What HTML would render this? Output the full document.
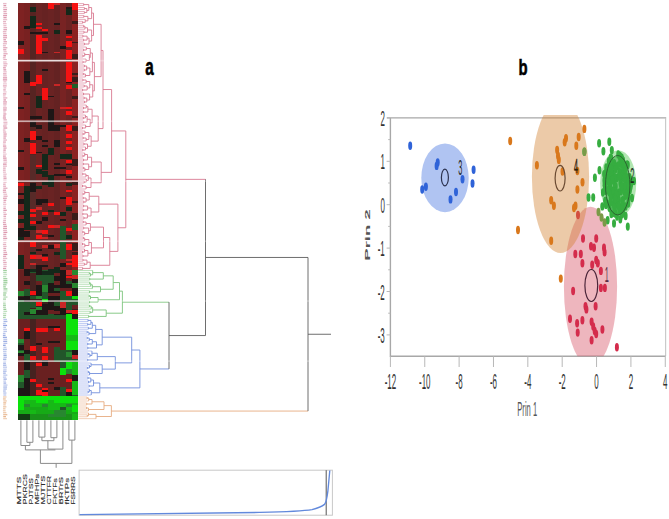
<!DOCTYPE html>
<html><head><meta charset="utf-8"><style>
html,body{margin:0;padding:0;background:#fff;width:669px;height:519px;overflow:hidden}
svg{display:block}
text{font-family:"Liberation Sans",sans-serif}
</style></head><body>
<svg width="669" height="519" viewBox="0 0 669 519">
<rect width="669" height="519" fill="#fff"/>
<g shape-rendering="crispEdges"><rect x="17.90" y="2.60" width="6.00" height="267.40" fill="rgb(126,34,34)"/><rect x="23.90" y="2.60" width="6.00" height="267.40" fill="rgb(120,33,33)"/><rect x="29.90" y="2.60" width="6.00" height="267.40" fill="rgb(86,36,34)"/><rect x="35.90" y="2.60" width="6.00" height="267.40" fill="rgb(106,35,35)"/><rect x="41.90" y="2.60" width="6.00" height="267.40" fill="rgb(102,34,34)"/><rect x="47.90" y="2.60" width="6.00" height="267.40" fill="rgb(106,35,35)"/><rect x="53.90" y="2.60" width="6.00" height="267.40" fill="rgb(100,34,34)"/><rect x="59.90" y="2.60" width="6.00" height="267.40" fill="rgb(120,35,35)"/><rect x="65.90" y="2.60" width="6.00" height="267.40" fill="rgb(108,34,34)"/><rect x="71.90" y="2.60" width="6.00" height="267.40" fill="rgb(140,34,34)"/><rect x="29.90" y="155" width="6.00" height="115" fill="rgb(88,42,40)"/><rect x="17.90" y="270" width="60.00" height="149.60" fill="rgb(60,32,30)"/><rect x="17.90" y="270.00" width="6.00" height="20.90" fill="rgb(105,32,32)"/><rect x="17.90" y="290.90" width="6.00" height="5.30" fill="rgb(40,135,48)"/><rect x="17.90" y="296.70" width="6.00" height="3.30" fill="rgb(30,22,22)"/><rect x="17.90" y="300.00" width="6.00" height="20.00" fill="rgb(34,86,42)"/><rect x="23.90" y="270.00" width="6.00" height="6.30" fill="rgb(30,22,22)"/><rect x="23.90" y="276.30" width="6.00" height="4.20" fill="rgb(105,32,32)"/><rect x="23.90" y="280.50" width="6.00" height="4.10" fill="rgb(30,22,22)"/><rect x="23.90" y="284.60" width="6.00" height="4.20" fill="rgb(105,32,32)"/><rect x="23.90" y="288.80" width="6.00" height="7.40" fill="rgb(34,86,42)"/><rect x="23.90" y="296.20" width="6.00" height="23.80" fill="rgb(30,22,22)"/><rect x="23.90" y="302.40" width="6.00" height="9.60" fill="rgb(34,86,42)"/><rect x="29.90" y="270.00" width="6.00" height="3.10" fill="rgb(34,86,42)"/><rect x="29.90" y="273.10" width="6.00" height="17.80" fill="rgb(70,34,32)"/><rect x="29.90" y="290.90" width="6.00" height="4.20" fill="rgb(245,18,18)"/><rect x="29.90" y="296.20" width="6.00" height="3.10" fill="rgb(34,86,42)"/><rect x="29.90" y="302.40" width="6.00" height="5.30" fill="rgb(34,86,42)"/><rect x="29.90" y="308.70" width="6.00" height="5.30" fill="rgb(40,135,48)"/><rect x="29.90" y="314.00" width="6.00" height="6.00" fill="rgb(30,22,22)"/><rect x="35.90" y="270.00" width="6.00" height="10.50" fill="rgb(34,86,42)"/><rect x="35.90" y="280.50" width="6.00" height="4.10" fill="rgb(105,32,32)"/><rect x="35.90" y="284.60" width="6.00" height="11.60" fill="rgb(30,22,22)"/><rect x="35.90" y="296.20" width="6.00" height="3.10" fill="rgb(40,135,48)"/><rect x="35.90" y="302.40" width="6.00" height="3.70" fill="rgb(245,18,18)"/><rect x="35.90" y="306.60" width="6.00" height="3.20" fill="rgb(40,135,48)"/><rect x="35.90" y="309.80" width="6.00" height="10.20" fill="rgb(30,22,22)"/><rect x="41.90" y="270.00" width="6.00" height="15.00" fill="rgb(34,86,42)"/><rect x="41.90" y="285.00" width="6.00" height="7.00" fill="rgb(40,135,48)"/><rect x="41.90" y="292.00" width="6.00" height="7.30" fill="rgb(34,86,42)"/><rect x="41.90" y="299.30" width="6.00" height="3.10" fill="rgb(12,226,12)"/><rect x="41.90" y="303.50" width="6.00" height="16.50" fill="rgb(30,22,22)"/><rect x="47.90" y="270.00" width="6.00" height="12.60" fill="rgb(34,86,42)"/><rect x="47.90" y="282.60" width="6.00" height="10.40" fill="rgb(30,22,22)"/><rect x="47.90" y="293.00" width="6.00" height="3.20" fill="rgb(105,32,32)"/><rect x="47.90" y="296.20" width="6.00" height="13.60" fill="rgb(30,22,22)"/><rect x="47.90" y="309.80" width="6.00" height="4.20" fill="rgb(105,32,32)"/><rect x="47.90" y="314.00" width="6.00" height="6.00" fill="rgb(34,86,42)"/><rect x="53.90" y="270.00" width="6.00" height="3.10" fill="rgb(34,86,42)"/><rect x="53.90" y="273.10" width="6.00" height="3.20" fill="rgb(105,32,32)"/><rect x="53.90" y="276.30" width="6.00" height="4.20" fill="rgb(30,22,22)"/><rect x="53.90" y="280.50" width="6.00" height="4.10" fill="rgb(105,32,32)"/><rect x="53.90" y="284.60" width="6.00" height="3.20" fill="rgb(30,22,22)"/><rect x="53.90" y="287.80" width="6.00" height="3.10" fill="rgb(34,86,42)"/><rect x="53.90" y="290.90" width="6.00" height="2.10" fill="rgb(30,22,22)"/><rect x="53.90" y="293.00" width="6.00" height="3.20" fill="rgb(105,32,32)"/><rect x="53.90" y="296.20" width="6.00" height="6.20" fill="rgb(30,22,22)"/><rect x="53.90" y="302.40" width="6.00" height="3.70" fill="rgb(34,86,42)"/><rect x="53.90" y="306.10" width="6.00" height="4.70" fill="rgb(30,22,22)"/><rect x="53.90" y="310.80" width="6.00" height="3.20" fill="rgb(105,32,32)"/><rect x="53.90" y="314.00" width="6.00" height="6.00" fill="rgb(30,22,22)"/><rect x="59.90" y="270.00" width="6.00" height="17.80" fill="rgb(30,22,22)"/><rect x="59.90" y="287.80" width="6.00" height="3.10" fill="rgb(105,32,32)"/><rect x="59.90" y="290.90" width="6.00" height="11.50" fill="rgb(34,86,42)"/><rect x="59.90" y="302.40" width="6.00" height="5.30" fill="rgb(200,38,38)"/><rect x="59.90" y="307.70" width="6.00" height="12.30" fill="rgb(30,22,22)"/><rect x="65.90" y="270.00" width="6.00" height="4.20" fill="rgb(200,38,38)"/><rect x="65.90" y="274.20" width="6.00" height="2.10" fill="rgb(105,32,32)"/><rect x="65.90" y="276.30" width="6.00" height="2.10" fill="rgb(245,18,18)"/><rect x="65.90" y="278.40" width="6.00" height="2.10" fill="rgb(105,32,32)"/><rect x="65.90" y="280.50" width="6.00" height="3.10" fill="rgb(34,86,42)"/><rect x="65.90" y="283.60" width="6.00" height="4.20" fill="rgb(30,22,22)"/><rect x="65.90" y="287.80" width="6.00" height="3.10" fill="rgb(105,32,32)"/><rect x="65.90" y="290.90" width="6.00" height="5.30" fill="rgb(245,18,18)"/><rect x="65.90" y="296.20" width="6.00" height="13.60" fill="rgb(34,86,42)"/><rect x="65.90" y="309.80" width="6.00" height="3.20" fill="rgb(200,38,38)"/><rect x="65.90" y="313.00" width="6.00" height="1.00" fill="rgb(30,22,22)"/><rect x="65.90" y="314.00" width="6.00" height="35.50" fill="rgb(12,226,12)"/><rect x="65.90" y="334.90" width="6.00" height="6.30" fill="rgb(22,185,22)"/><rect x="71.90" y="270.00" width="6.00" height="3.10" fill="rgb(30,22,22)"/><rect x="71.90" y="273.10" width="6.00" height="6.30" fill="rgb(200,38,38)"/><rect x="71.90" y="279.40" width="6.00" height="3.20" fill="rgb(30,22,22)"/><rect x="71.90" y="282.60" width="6.00" height="5.20" fill="rgb(40,135,48)"/><rect x="71.90" y="287.80" width="6.00" height="8.40" fill="rgb(30,22,22)"/><rect x="71.90" y="296.20" width="6.00" height="3.10" fill="rgb(12,226,12)"/><rect x="71.90" y="299.30" width="6.00" height="5.20" fill="rgb(34,86,42)"/><rect x="71.90" y="304.50" width="6.00" height="4.20" fill="rgb(105,32,32)"/><rect x="71.90" y="309.80" width="6.00" height="4.20" fill="rgb(245,18,18)"/><rect x="71.90" y="314.00" width="6.00" height="5.20" fill="rgb(30,22,22)"/><rect x="71.90" y="319.20" width="6.00" height="30.30" fill="rgb(12,226,12)"/><rect x="71.90" y="334.90" width="6.00" height="6.30" fill="rgb(22,185,22)"/><rect x="17.90" y="315.00" width="48.00" height="4.20" fill="rgb(34,86,42)"/><rect x="17.90" y="319.20" width="6.00" height="19.80" fill="rgb(105,32,32)"/><rect x="17.90" y="339.00" width="6.00" height="4.30" fill="rgb(40,135,48)"/><rect x="17.90" y="343.30" width="6.00" height="2.00" fill="rgb(34,86,42)"/><rect x="17.90" y="345.30" width="6.00" height="4.20" fill="rgb(30,22,22)"/><rect x="17.90" y="349.50" width="6.00" height="1.10" fill="rgb(34,86,42)"/><rect x="17.90" y="350.60" width="6.00" height="2.10" fill="rgb(40,135,48)"/><rect x="17.90" y="352.70" width="6.00" height="3.10" fill="rgb(30,22,22)"/><rect x="17.90" y="355.80" width="6.00" height="18.80" fill="rgb(105,32,32)"/><rect x="17.90" y="374.60" width="6.00" height="7.40" fill="rgb(40,135,48)"/><rect x="17.90" y="382.00" width="6.00" height="6.00" fill="rgb(34,86,42)"/><rect x="17.90" y="388.00" width="6.00" height="8.00" fill="rgb(30,22,22)"/><rect x="23.90" y="319.20" width="6.00" height="8.40" fill="rgb(105,32,32)"/><rect x="23.90" y="327.60" width="6.00" height="3.10" fill="rgb(245,18,18)"/><rect x="23.90" y="330.70" width="6.00" height="8.30" fill="rgb(30,22,22)"/><rect x="23.90" y="339.00" width="6.00" height="10.50" fill="rgb(105,32,32)"/><rect x="23.90" y="349.50" width="6.00" height="4.20" fill="rgb(30,22,22)"/><rect x="23.90" y="353.70" width="6.00" height="8.30" fill="rgb(34,86,42)"/><rect x="23.90" y="362.00" width="6.00" height="8.00" fill="rgb(30,22,22)"/><rect x="23.90" y="370.00" width="6.00" height="8.00" fill="rgb(34,86,42)"/><rect x="23.90" y="378.00" width="6.00" height="18.00" fill="rgb(30,22,22)"/><rect x="29.90" y="319.20" width="6.00" height="27.20" fill="rgb(70,34,32)"/><rect x="29.90" y="346.40" width="6.00" height="4.20" fill="rgb(245,18,18)"/><rect x="29.90" y="350.60" width="6.00" height="5.20" fill="rgb(70,34,32)"/><rect x="29.90" y="355.80" width="6.00" height="4.20" fill="rgb(245,18,18)"/><rect x="29.90" y="360.00" width="6.00" height="18.80" fill="rgb(70,34,32)"/><rect x="29.90" y="378.80" width="6.00" height="3.20" fill="rgb(245,18,18)"/><rect x="29.90" y="382.00" width="6.00" height="14.00" fill="rgb(70,34,32)"/><rect x="35.90" y="319.20" width="6.00" height="8.40" fill="rgb(105,32,32)"/><rect x="35.90" y="327.60" width="6.00" height="4.10" fill="rgb(245,18,18)"/><rect x="35.90" y="331.70" width="6.00" height="11.60" fill="rgb(105,32,32)"/><rect x="35.90" y="343.30" width="6.00" height="2.00" fill="rgb(30,22,22)"/><rect x="35.90" y="345.30" width="6.00" height="17.80" fill="rgb(105,32,32)"/><rect x="35.90" y="363.10" width="6.00" height="3.20" fill="rgb(245,18,18)"/><rect x="35.90" y="366.30" width="6.00" height="17.20" fill="rgb(105,32,32)"/><rect x="35.90" y="383.50" width="6.00" height="3.70" fill="rgb(245,18,18)"/><rect x="35.90" y="387.20" width="6.00" height="3.10" fill="rgb(105,32,32)"/><rect x="35.90" y="390.30" width="6.00" height="4.20" fill="rgb(245,18,18)"/><rect x="35.90" y="394.50" width="6.00" height="1.50" fill="rgb(105,32,32)"/><rect x="41.90" y="319.20" width="6.00" height="8.40" fill="rgb(105,32,32)"/><rect x="41.90" y="327.60" width="6.00" height="4.10" fill="rgb(245,18,18)"/><rect x="41.90" y="331.70" width="6.00" height="15.70" fill="rgb(105,32,32)"/><rect x="41.90" y="347.40" width="6.00" height="5.30" fill="rgb(245,18,18)"/><rect x="41.90" y="352.70" width="6.00" height="3.10" fill="rgb(105,32,32)"/><rect x="41.90" y="355.80" width="6.00" height="4.20" fill="rgb(245,18,18)"/><rect x="41.90" y="360.00" width="6.00" height="6.30" fill="rgb(30,22,22)"/><rect x="41.90" y="366.30" width="6.00" height="21.40" fill="rgb(105,32,32)"/><rect x="41.90" y="387.70" width="6.00" height="2.60" fill="rgb(245,18,18)"/><rect x="41.90" y="390.30" width="6.00" height="2.10" fill="rgb(30,22,22)"/><rect x="41.90" y="392.40" width="6.00" height="3.60" fill="rgb(245,18,18)"/><rect x="47.90" y="319.20" width="6.00" height="6.30" fill="rgb(105,32,32)"/><rect x="47.90" y="325.50" width="6.00" height="2.10" fill="rgb(30,22,22)"/><rect x="47.90" y="327.60" width="6.00" height="13.60" fill="rgb(105,32,32)"/><rect x="47.90" y="341.20" width="6.00" height="2.10" fill="rgb(30,22,22)"/><rect x="47.90" y="343.30" width="6.00" height="34.50" fill="rgb(105,32,32)"/><rect x="47.90" y="377.80" width="6.00" height="2.10" fill="rgb(30,22,22)"/><rect x="47.90" y="379.90" width="6.00" height="2.10" fill="rgb(105,32,32)"/><rect x="47.90" y="382.00" width="6.00" height="1.50" fill="rgb(30,22,22)"/><rect x="47.90" y="383.50" width="6.00" height="12.50" fill="rgb(105,32,32)"/><rect x="53.90" y="319.20" width="6.00" height="6.30" fill="rgb(105,32,32)"/><rect x="53.90" y="325.50" width="6.00" height="2.10" fill="rgb(30,22,22)"/><rect x="53.90" y="327.60" width="6.00" height="3.60" fill="rgb(245,18,18)"/><rect x="53.90" y="331.20" width="6.00" height="10.00" fill="rgb(105,32,32)"/><rect x="53.90" y="341.20" width="6.00" height="2.10" fill="rgb(30,22,22)"/><rect x="53.90" y="343.30" width="6.00" height="4.10" fill="rgb(105,32,32)"/><rect x="53.90" y="347.40" width="6.00" height="14.60" fill="rgb(34,86,42)"/><rect x="53.90" y="362.00" width="6.00" height="25.20" fill="rgb(105,32,32)"/><rect x="53.90" y="387.20" width="6.00" height="3.10" fill="rgb(30,22,22)"/><rect x="53.90" y="390.30" width="6.00" height="5.70" fill="rgb(105,32,32)"/><rect x="59.90" y="319.20" width="6.00" height="30.30" fill="rgb(105,32,32)"/><rect x="59.90" y="349.50" width="6.00" height="18.90" fill="rgb(34,86,42)"/><rect x="59.90" y="368.40" width="6.00" height="6.20" fill="rgb(12,226,12)"/><rect x="59.90" y="374.60" width="6.00" height="12.60" fill="rgb(105,32,32)"/><rect x="59.90" y="387.20" width="6.00" height="8.80" fill="rgb(34,86,42)"/><rect x="65.90" y="349.50" width="6.00" height="2.10" fill="rgb(34,86,42)"/><rect x="65.90" y="351.60" width="6.00" height="5.30" fill="rgb(40,135,48)"/><rect x="65.90" y="356.90" width="6.00" height="5.10" fill="rgb(34,86,42)"/><rect x="65.90" y="362.00" width="6.00" height="7.40" fill="rgb(12,226,12)"/><rect x="65.90" y="369.40" width="6.00" height="4.20" fill="rgb(40,135,48)"/><rect x="65.90" y="373.60" width="6.00" height="5.20" fill="rgb(105,32,32)"/><rect x="65.90" y="378.80" width="6.00" height="3.20" fill="rgb(245,18,18)"/><rect x="65.90" y="382.00" width="6.00" height="7.30" fill="rgb(105,32,32)"/><rect x="65.90" y="389.30" width="6.00" height="3.10" fill="rgb(245,18,18)"/><rect x="65.90" y="392.40" width="6.00" height="3.60" fill="rgb(30,22,22)"/><rect x="71.90" y="349.50" width="6.00" height="5.30" fill="rgb(30,22,22)"/><rect x="71.90" y="354.80" width="6.00" height="4.20" fill="rgb(200,38,38)"/><rect x="71.90" y="359.00" width="6.00" height="3.00" fill="rgb(34,86,42)"/><rect x="71.90" y="362.00" width="6.00" height="12.60" fill="rgb(22,185,22)"/><rect x="71.90" y="374.60" width="6.00" height="6.40" fill="rgb(30,22,22)"/><rect x="71.90" y="381.00" width="6.00" height="13.50" fill="rgb(22,185,22)"/><rect x="71.90" y="394.50" width="6.00" height="1.50" fill="rgb(34,86,42)"/><rect x="17.90" y="396.00" width="60.00" height="23.60" fill="rgb(12,226,12)"/><rect x="17.90" y="403.00" width="60.00" height="7.00" fill="rgb(22,185,22)"/><rect x="17.90" y="410.00" width="60.00" height="4.00" fill="rgb(22,170,22)"/><rect x="17.90" y="414.00" width="60.00" height="5.60" fill="rgb(25,145,25)"/><rect x="23.90" y="400.00" width="12.00" height="3.00" fill="rgb(22,185,22)"/><rect x="47.90" y="400.00" width="6.00" height="3.00" fill="rgb(22,185,22)"/><rect x="23.90" y="404.00" width="6.00" height="3.00" fill="rgb(40,135,48)"/><rect x="41.90" y="404.00" width="6.00" height="3.00" fill="rgb(40,135,48)"/><rect x="65.90" y="404.00" width="6.00" height="3.00" fill="rgb(40,135,48)"/><rect x="47.90" y="404.00" width="12.00" height="3.00" fill="rgb(22,185,22)"/><rect x="59.90" y="407.00" width="6.00" height="3.00" fill="rgb(34,86,42)"/><rect x="23.90" y="407.00" width="24.00" height="3.00" fill="rgb(22,170,22)"/><rect x="53.90" y="410.00" width="12.00" height="4.00" fill="rgb(40,135,48)"/><rect x="29.90" y="410.00" width="6.00" height="4.00" fill="rgb(22,185,22)"/><rect x="17.90" y="414.00" width="12.00" height="5.60" fill="rgb(18,60,20)"/><rect x="47.90" y="414.00" width="18.00" height="3.00" fill="rgb(40,135,48)"/><rect x="71.90" y="405.00" width="6.00" height="7.00" fill="rgb(12,226,12)"/><rect x="17.90" y="396.00" width="6.00" height="14.00" fill="rgb(12,226,12)"/><rect x="71.90" y="414.00" width="6.00" height="5.60" fill="rgb(22,185,22)"/><rect x="47.90" y="3.00" width="6.00" height="6.40" fill="rgb(245,18,18)"/><rect x="53.90" y="3.00" width="6.00" height="2.00" fill="rgb(200,38,38)"/><rect x="71.90" y="3.00" width="6.00" height="7.00" fill="rgb(245,18,18)"/><rect x="29.90" y="7.30" width="6.00" height="4.20" fill="rgb(20,40,26)"/><rect x="65.90" y="7.30" width="6.00" height="1.60" fill="rgb(30,22,22)"/><rect x="65.90" y="8.90" width="6.00" height="5.70" fill="rgb(20,40,26)"/><rect x="29.90" y="15.70" width="6.00" height="11.50" fill="rgb(20,40,26)"/><rect x="23.90" y="25.60" width="6.00" height="3.20" fill="rgb(30,22,22)"/><rect x="29.90" y="25.00" width="6.00" height="3.00" fill="rgb(20,40,26)"/><rect x="35.90" y="22.50" width="6.00" height="2.60" fill="rgb(245,18,18)"/><rect x="35.90" y="27.00" width="6.00" height="1.80" fill="rgb(245,18,18)"/><rect x="41.90" y="29.30" width="6.00" height="2.10" fill="rgb(245,18,18)"/><rect x="29.90" y="31.90" width="18.00" height="1.60" fill="rgb(30,22,22)"/><rect x="53.90" y="23.00" width="6.00" height="2.10" fill="rgb(30,22,22)"/><rect x="53.90" y="29.80" width="6.00" height="3.70" fill="rgb(20,40,26)"/><rect x="65.90" y="30.30" width="6.00" height="3.20" fill="rgb(30,22,22)"/><rect x="65.90" y="36.00" width="6.00" height="1.70" fill="rgb(245,18,18)"/><rect x="65.90" y="41.30" width="6.00" height="5.70" fill="rgb(245,18,18)"/><rect x="71.90" y="20.90" width="6.00" height="3.10" fill="rgb(58,28,26)"/><rect x="71.90" y="41.80" width="6.00" height="1.20" fill="rgb(58,28,26)"/><rect x="35.90" y="35.00" width="6.00" height="19.00" fill="rgb(245,18,18)"/><rect x="41.90" y="38.20" width="6.00" height="2.60" fill="rgb(245,18,18)"/><rect x="17.90" y="41.30" width="6.00" height="3.20" fill="rgb(30,22,22)"/><rect x="17.90" y="48.50" width="6.00" height="5.50" fill="rgb(245,18,18)"/><rect x="59.90" y="45.50" width="6.00" height="3.20" fill="rgb(30,22,22)"/><rect x="41.90" y="51.80" width="6.00" height="1.60" fill="rgb(30,22,22)"/><rect x="53.90" y="51.80" width="6.00" height="1.60" fill="rgb(200,38,38)"/><rect x="65.90" y="49.70" width="6.00" height="8.90" fill="rgb(245,18,18)"/><rect x="65.90" y="61.70" width="6.00" height="21.00" fill="rgb(245,18,18)"/><rect x="65.90" y="82.00" width="6.00" height="1.00" fill="rgb(30,22,22)"/><rect x="65.90" y="84.80" width="6.00" height="4.20" fill="rgb(245,18,18)"/><rect x="71.90" y="54.40" width="6.00" height="4.20" fill="rgb(58,28,26)"/><rect x="71.90" y="73.30" width="6.00" height="2.00" fill="rgb(58,28,26)"/><rect x="71.90" y="77.40" width="6.00" height="4.20" fill="rgb(58,28,26)"/><rect x="71.90" y="84.20" width="6.00" height="3.70" fill="rgb(30,95,40)"/><rect x="23.90" y="71.20" width="6.00" height="12.00" fill="rgb(30,22,22)"/><rect x="29.90" y="81.60" width="6.00" height="4.70" fill="rgb(245,18,18)"/><rect x="35.90" y="75.30" width="6.00" height="8.40" fill="rgb(245,18,18)"/><rect x="41.90" y="68.50" width="6.00" height="2.10" fill="rgb(30,22,22)"/><rect x="41.90" y="88.40" width="6.00" height="11.60" fill="rgb(245,18,18)"/><rect x="53.90" y="84.20" width="6.00" height="2.10" fill="rgb(200,38,38)"/><rect x="23.90" y="93.00" width="6.00" height="2.20" fill="rgb(30,22,22)"/><rect x="35.90" y="95.80" width="6.00" height="12.50" fill="rgb(20,40,26)"/><rect x="47.90" y="95.80" width="6.00" height="1.50" fill="rgb(30,22,22)"/><rect x="17.90" y="106.70" width="6.00" height="2.10" fill="rgb(30,22,22)"/><rect x="59.90" y="106.70" width="6.00" height="2.70" fill="rgb(200,38,38)"/><rect x="65.90" y="106.70" width="6.00" height="2.70" fill="rgb(245,18,18)"/><rect x="65.90" y="111.40" width="6.00" height="3.70" fill="rgb(245,18,18)"/><rect x="71.90" y="95.80" width="6.00" height="3.60" fill="rgb(58,28,26)"/><rect x="71.90" y="115.60" width="6.00" height="2.10" fill="rgb(58,28,26)"/><rect x="29.90" y="115.60" width="12.00" height="3.70" fill="rgb(30,22,22)"/><rect x="47.90" y="109.40" width="6.00" height="21.40" fill="rgb(30,22,22)"/><rect x="53.90" y="124.50" width="6.00" height="6.30" fill="rgb(30,22,22)"/><rect x="59.90" y="124.50" width="6.00" height="2.10" fill="rgb(30,22,22)"/><rect x="29.90" y="122.40" width="6.00" height="4.20" fill="rgb(30,22,22)"/><rect x="35.90" y="124.50" width="6.00" height="4.20" fill="rgb(30,22,22)"/><rect x="65.90" y="124.50" width="6.00" height="6.80" fill="rgb(245,18,18)"/><rect x="65.90" y="134.00" width="6.00" height="4.00" fill="rgb(245,18,18)"/><rect x="71.90" y="125.60" width="6.00" height="5.20" fill="rgb(58,28,26)"/><rect x="29.90" y="131.30" width="6.00" height="8.90" fill="rgb(245,18,18)"/><rect x="23.90" y="138.00" width="6.00" height="4.30" fill="rgb(30,22,22)"/><rect x="35.90" y="136.00" width="6.00" height="3.70" fill="rgb(30,22,22)"/><rect x="29.90" y="142.80" width="6.00" height="11.60" fill="rgb(245,18,18)"/><rect x="41.90" y="140.20" width="6.00" height="2.10" fill="rgb(30,22,22)"/><rect x="41.90" y="145.00" width="6.00" height="1.50" fill="rgb(30,22,22)"/><rect x="53.90" y="140.20" width="6.00" height="6.30" fill="rgb(30,22,22)"/><rect x="65.90" y="140.80" width="6.00" height="3.60" fill="rgb(245,18,18)"/><rect x="65.90" y="147.00" width="6.00" height="2.60" fill="rgb(245,18,18)"/><rect x="17.90" y="149.60" width="6.00" height="2.10" fill="rgb(30,22,22)"/><rect x="17.90" y="167.40" width="6.00" height="2.10" fill="rgb(30,22,22)"/><rect x="47.90" y="147.60" width="6.00" height="7.80" fill="rgb(20,40,26)"/><rect x="35.90" y="151.70" width="6.00" height="1.60" fill="rgb(30,22,22)"/><rect x="59.90" y="154.40" width="12.00" height="4.10" fill="rgb(20,40,26)"/><rect x="41.90" y="154.40" width="6.00" height="15.10" fill="rgb(20,40,26)"/><rect x="65.90" y="159.60" width="6.00" height="3.10" fill="rgb(245,18,18)"/><rect x="65.90" y="163.50" width="6.00" height="1.00" fill="rgb(30,22,22)"/><rect x="65.90" y="169.50" width="6.00" height="4.20" fill="rgb(245,18,18)"/><rect x="65.90" y="176.00" width="6.00" height="1.50" fill="rgb(30,22,22)"/><rect x="35.90" y="164.80" width="6.00" height="2.60" fill="rgb(245,18,18)"/><rect x="35.90" y="168.50" width="6.00" height="5.20" fill="rgb(20,40,26)"/><rect x="53.90" y="162.70" width="6.00" height="2.10" fill="rgb(30,22,22)"/><rect x="53.90" y="167.40" width="12.00" height="1.60" fill="rgb(30,22,22)"/><rect x="53.90" y="174.20" width="12.00" height="1.60" fill="rgb(30,22,22)"/><rect x="47.90" y="174.80" width="6.00" height="12.00" fill="rgb(20,40,26)"/><rect x="41.90" y="170.60" width="6.00" height="6.30" fill="rgb(20,40,26)"/><rect x="71.90" y="159.00" width="6.00" height="7.40" fill="rgb(58,28,26)"/><rect x="17.90" y="182.60" width="6.00" height="3.20" fill="rgb(245,18,18)"/><rect x="17.90" y="192.60" width="6.00" height="2.00" fill="rgb(30,22,22)"/><rect x="17.90" y="199.40" width="6.00" height="4.60" fill="rgb(30,22,22)"/><rect x="17.90" y="211.40" width="6.00" height="3.10" fill="rgb(20,40,26)"/><rect x="17.90" y="218.70" width="6.00" height="4.20" fill="rgb(20,40,26)"/><rect x="17.90" y="227.50" width="6.00" height="9.00" fill="rgb(30,22,22)"/><rect x="23.90" y="186.30" width="6.00" height="43.70" fill="rgb(20,40,26)"/><rect x="29.90" y="182.60" width="6.00" height="8.90" fill="rgb(30,22,22)"/><rect x="29.90" y="209.30" width="6.00" height="3.10" fill="rgb(245,18,18)"/><rect x="29.90" y="214.00" width="6.00" height="3.00" fill="rgb(245,18,18)"/><rect x="29.90" y="221.30" width="6.00" height="2.70" fill="rgb(245,18,18)"/><rect x="29.90" y="226.00" width="6.00" height="4.00" fill="rgb(20,40,26)"/><rect x="35.90" y="186.30" width="6.00" height="3.10" fill="rgb(20,40,26)"/><rect x="35.90" y="199.40" width="6.00" height="5.60" fill="rgb(30,22,22)"/><rect x="35.90" y="206.70" width="6.00" height="3.60" fill="rgb(200,38,38)"/><rect x="35.90" y="221.30" width="6.00" height="2.20" fill="rgb(30,22,22)"/><rect x="41.90" y="182.00" width="6.00" height="3.20" fill="rgb(20,40,26)"/><rect x="41.90" y="199.40" width="6.00" height="3.10" fill="rgb(30,22,22)"/><rect x="41.90" y="211.90" width="6.00" height="3.10" fill="rgb(245,18,18)"/><rect x="41.90" y="217.10" width="6.00" height="3.70" fill="rgb(30,22,22)"/><rect x="47.90" y="203.00" width="6.00" height="3.20" fill="rgb(245,18,18)"/><rect x="47.90" y="209.80" width="6.00" height="2.20" fill="rgb(20,40,26)"/><rect x="47.90" y="225.00" width="6.00" height="3.10" fill="rgb(245,18,18)"/><rect x="53.90" y="211.90" width="6.00" height="3.10" fill="rgb(245,18,18)"/><rect x="53.90" y="224.50" width="6.00" height="3.60" fill="rgb(200,38,38)"/><rect x="59.90" y="196.70" width="6.00" height="2.10" fill="rgb(30,22,22)"/><rect x="59.90" y="212.40" width="6.00" height="3.20" fill="rgb(20,40,26)"/><rect x="59.90" y="218.70" width="6.00" height="2.10" fill="rgb(30,22,22)"/><rect x="59.90" y="226.00" width="6.00" height="13.60" fill="rgb(34,86,42)"/><rect x="65.90" y="183.10" width="6.00" height="2.70" fill="rgb(20,40,26)"/><rect x="65.90" y="190.00" width="6.00" height="2.00" fill="rgb(245,18,18)"/><rect x="65.90" y="197.30" width="6.00" height="7.70" fill="rgb(245,18,18)"/><rect x="65.90" y="206.70" width="6.00" height="4.70" fill="rgb(20,40,26)"/><rect x="65.90" y="227.60" width="6.00" height="3.70" fill="rgb(245,18,18)"/><rect x="71.90" y="182.00" width="6.00" height="3.20" fill="rgb(58,28,26)"/><rect x="71.90" y="201.00" width="6.00" height="2.00" fill="rgb(58,28,26)"/><rect x="71.90" y="213.00" width="6.00" height="6.80" fill="rgb(58,28,26)"/><rect x="71.90" y="224.00" width="6.00" height="6.20" fill="rgb(30,95,40)"/><rect x="17.90" y="237.00" width="6.00" height="2.60" fill="rgb(20,40,26)"/><rect x="17.90" y="255.30" width="6.00" height="13.70" fill="rgb(20,40,26)"/><rect x="23.90" y="231.30" width="6.00" height="5.20" fill="rgb(30,22,22)"/><rect x="23.90" y="269.00" width="6.00" height="6.00" fill="rgb(30,22,22)"/><rect x="29.90" y="242.30" width="6.00" height="4.70" fill="rgb(245,18,18)"/><rect x="29.90" y="251.70" width="6.00" height="2.60" fill="rgb(20,40,26)"/><rect x="29.90" y="255.30" width="6.00" height="3.20" fill="rgb(245,18,18)"/><rect x="29.90" y="262.70" width="6.00" height="2.60" fill="rgb(200,38,38)"/><rect x="29.90" y="269.00" width="6.00" height="3.00" fill="rgb(20,40,26)"/><rect x="35.90" y="229.70" width="6.00" height="3.70" fill="rgb(200,38,38)"/><rect x="35.90" y="235.00" width="6.00" height="4.00" fill="rgb(245,18,18)"/><rect x="35.90" y="249.00" width="6.00" height="2.20" fill="rgb(30,22,22)"/><rect x="35.90" y="255.30" width="6.00" height="3.20" fill="rgb(200,38,38)"/><rect x="35.90" y="264.80" width="6.00" height="10.20" fill="rgb(30,22,22)"/><rect x="41.90" y="230.20" width="6.00" height="4.20" fill="rgb(245,18,18)"/><rect x="41.90" y="236.50" width="6.00" height="2.50" fill="rgb(200,38,38)"/><rect x="41.90" y="244.90" width="6.00" height="3.10" fill="rgb(200,38,38)"/><rect x="41.90" y="254.30" width="6.00" height="1.50" fill="rgb(30,22,22)"/><rect x="41.90" y="257.40" width="6.00" height="3.70" fill="rgb(245,18,18)"/><rect x="41.90" y="264.80" width="6.00" height="2.10" fill="rgb(30,22,22)"/><rect x="41.90" y="271.00" width="6.00" height="4.00" fill="rgb(20,40,26)"/><rect x="47.90" y="235.00" width="6.00" height="1.50" fill="rgb(30,22,22)"/><rect x="47.90" y="244.90" width="6.00" height="4.10" fill="rgb(30,22,22)"/><rect x="47.90" y="269.00" width="6.00" height="6.00" fill="rgb(20,40,26)"/><rect x="53.90" y="225.00" width="6.00" height="2.60" fill="rgb(200,38,38)"/><rect x="53.90" y="243.80" width="6.00" height="4.20" fill="rgb(200,38,38)"/><rect x="53.90" y="252.20" width="6.00" height="3.10" fill="rgb(20,40,26)"/><rect x="53.90" y="266.90" width="6.00" height="6.20" fill="rgb(20,40,26)"/><rect x="59.90" y="241.70" width="6.00" height="16.80" fill="rgb(34,86,42)"/><rect x="59.90" y="263.20" width="6.00" height="3.70" fill="rgb(30,22,22)"/><rect x="65.90" y="235.00" width="6.00" height="3.60" fill="rgb(20,40,26)"/><rect x="65.90" y="243.80" width="6.00" height="5.80" fill="rgb(245,18,18)"/><rect x="65.90" y="258.50" width="6.00" height="2.60" fill="rgb(200,38,38)"/><rect x="65.90" y="262.70" width="6.00" height="2.60" fill="rgb(245,18,18)"/><rect x="65.90" y="271.00" width="6.00" height="4.00" fill="rgb(200,38,38)"/><rect x="71.90" y="242.80" width="6.00" height="8.40" fill="rgb(58,28,26)"/><rect x="71.90" y="252.20" width="6.00" height="2.60" fill="rgb(58,28,26)"/><rect x="71.90" y="255.30" width="6.00" height="11.60" fill="rgb(245,18,18)"/><rect x="71.90" y="270.00" width="6.00" height="5.00" fill="rgb(40,135,48)"/></g>
<g><path d="M78.20 3.59H83.70M78.20 5.56H83.70M78.20 7.53H84.45M78.20 9.50H84.45M78.20 11.48H84.38M78.20 13.45H84.38M78.20 15.42H83.81M78.20 17.40H83.81M78.20 21.34H82.61M78.20 23.31H82.61M78.20 19.37H85.25M78.20 25.29H83.66M78.20 27.26H83.66M78.20 29.23H84.90M78.20 31.20H83.97M78.20 33.18H83.97M78.20 35.15H82.91M78.20 37.12H82.91M78.20 39.10H83.59M78.20 41.07H83.59M78.20 43.04H84.41M78.20 45.01H84.41M78.20 49.00H83.63M78.20 51.00H83.63M78.20 47.00H86.32M78.20 55.00H83.01M78.20 57.00H83.01M78.20 53.00H84.72M78.20 61.00H83.02M78.20 63.00H83.02M78.20 59.00H86.04M78.20 65.00H84.40M78.20 67.00H84.40M78.20 69.00H84.37M78.20 71.00H84.37M78.20 73.00H83.31M78.20 75.00H83.31M78.20 77.00H85.37M78.20 79.00H82.91M78.20 81.00H82.91M78.20 83.00H86.13M78.20 85.00H84.25M78.20 87.00H84.25M78.20 89.00H82.59M78.20 91.00H82.59M78.20 93.00H83.53M78.20 95.00H83.53M78.20 97.00H84.15M78.20 99.00H84.15M78.20 101.00H84.45M78.20 103.00H84.45M78.20 107.00H83.52M78.20 109.00H83.52M78.20 105.00H86.25M78.20 111.00H83.34M78.20 113.00H83.34M78.20 117.00H83.33M78.20 119.00H83.33M78.20 115.00H85.40M78.20 121.00H83.36M78.20 123.00H83.36M78.20 127.00H82.53M78.20 129.00H82.53M78.20 125.00H85.63M78.20 133.00H83.07M78.20 135.00H83.07M78.20 131.00H84.96M78.20 137.00H83.15M78.20 139.00H83.15M78.20 141.00H86.11M78.20 143.00H83.99M78.20 145.00H83.99M78.20 149.00H82.77M78.20 151.00H82.77M78.20 147.00H85.54M78.20 155.00H83.04M78.20 157.00H83.04M78.20 153.00H84.72M78.20 159.00H83.55M78.20 161.00H83.55M78.20 163.00H83.33M78.20 165.00H83.33M78.20 167.00H83.37M78.20 169.00H83.37M78.20 171.00H84.88M78.20 173.00H82.80M78.20 175.00H82.80M78.20 177.00H85.94M78.20 181.00H84.22M78.20 183.00H84.22M78.20 179.00H86.30M78.20 185.00H82.51M78.20 187.00H82.51M78.20 189.00H86.07M78.20 193.00H83.08M78.20 195.00H83.08M78.20 191.00H84.77M78.20 197.00H83.25M78.20 199.00H83.25M78.20 201.00H83.82M78.20 203.00H83.82M78.20 205.00H83.60M78.20 207.00H83.60M78.20 209.00H83.27M78.20 211.00H83.27M78.20 213.00H82.85M78.20 215.00H82.85M78.20 217.00H83.99M78.20 219.00H83.99M78.20 221.00H83.29M78.20 223.00H83.29M78.20 225.00H86.06M78.20 227.00H83.73M78.20 229.00H83.73M78.20 231.00H82.88M78.20 233.00H82.88M78.20 235.00H84.67M78.20 237.00H83.37M78.20 239.00H83.37M78.20 241.00H84.68M78.20 243.00H82.50M78.20 245.00H82.50M78.20 247.00H84.85M78.20 251.00H82.58M78.20 253.00H82.58M78.20 249.00H84.56M78.20 255.00H83.04M78.20 257.00H83.04M78.20 259.04H82.99M78.20 261.12H82.99M78.20 263.21H84.41M78.20 265.29H84.41M78.20 267.38H82.59M78.20 269.46H82.59" stroke="#e4a2b3" stroke-width="0.9" fill="none"/><path d="M83.70 3.59V5.56M84.45 7.53V9.50M84.38 11.48V13.45M84.45 8.52H86.85M84.38 12.46H86.85M86.85 8.52V12.46M83.70 4.57H88.76M86.85 10.49H88.76M88.76 4.57V10.49M83.81 15.42V17.40M82.61 21.34V23.31M82.61 22.33H85.25M85.25 19.37V22.33M83.81 16.41H87.90M85.25 20.85H87.90M87.90 16.41V20.85M88.76 7.53H91.61M87.90 18.63H91.61M91.61 7.53V18.63M83.66 25.29V27.26M83.66 26.27H84.90M84.90 26.27V29.23M83.97 31.20V33.18M84.90 27.75H87.55M83.97 32.19H87.55M87.55 27.75V32.19M82.91 35.15V37.12M83.59 39.10V41.07M82.91 36.14H87.08M83.59 40.08H87.08M87.08 36.14V40.08M84.41 43.04V45.01M87.08 38.11H89.03M84.41 44.03H89.03M89.03 38.11V44.03M87.55 29.97H91.61M89.03 41.07H91.61M91.61 29.97V41.07M91.61 13.08H93.50M91.61 35.52H93.50M93.50 13.08V35.52M83.63 49.00V51.00M83.63 50.00H86.32M86.32 47.00V50.00M83.01 55.00V57.00M83.01 56.00H84.72M84.72 53.00V56.00M83.02 61.00V63.00M83.02 62.00H86.04M86.04 59.00V62.00M84.72 54.50H89.37M86.04 60.50H89.37M89.37 54.50V60.50M86.32 48.50H90.29M89.37 57.50H90.29M90.29 48.50V57.50M84.40 65.00V67.00M84.37 69.00V71.00M84.40 66.00H86.69M84.37 70.00H86.69M86.69 66.00V70.00M83.31 73.00V75.00M83.31 74.00H85.37M85.37 74.00V77.00M86.69 68.00H89.88M85.37 75.50H89.88M89.88 68.00V75.50M90.29 53.00H92.41M89.88 71.75H92.41M92.41 53.00V71.75M82.91 79.00V81.00M82.91 80.00H86.13M86.13 80.00V83.00M84.25 85.00V87.00M82.59 89.00V91.00M84.25 86.00H87.16M82.59 90.00H87.16M87.16 86.00V90.00M86.13 81.50H89.75M87.16 88.00H89.75M89.75 81.50V88.00M83.53 93.00V95.00M84.15 97.00V99.00M84.45 101.00V103.00M84.15 98.00H86.79M84.45 102.00H86.79M86.79 98.00V102.00M83.53 94.00H89.61M86.79 100.00H89.61M89.61 94.00V100.00M89.75 84.75H92.74M89.61 97.00H92.74M92.74 84.75V97.00M92.41 62.38H94.40M92.74 90.88H94.40M94.40 62.38V90.88M93.50 24.30H101.10M94.40 76.62H101.10M101.10 24.30V76.62M83.52 107.00V109.00M83.52 108.00H86.25M86.25 105.00V108.00M83.34 111.00V113.00M86.25 106.50H87.89M83.34 112.00H87.89M87.89 106.50V112.00M83.33 117.00V119.00M83.33 118.00H85.40M85.40 115.00V118.00M83.36 121.00V123.00M85.40 116.50H87.13M83.36 122.00H87.13M87.13 116.50V122.00M82.53 127.00V129.00M82.53 128.00H85.63M85.63 125.00V128.00M87.13 119.25H90.19M85.63 126.50H90.19M90.19 119.25V126.50M87.89 109.25H92.10M90.19 122.88H92.10M92.10 109.25V122.88M83.07 133.00V135.00M83.07 134.00H84.96M84.96 131.00V134.00M83.15 137.00V139.00M83.15 138.00H86.11M86.11 138.00V141.00M84.96 132.50H88.83M86.11 139.50H88.83M88.83 132.50V139.50M83.99 143.00V145.00M82.77 149.00V151.00M82.77 150.00H85.54M85.54 147.00V150.00M83.99 144.00H87.50M85.54 148.50H87.50M87.50 144.00V148.50M88.83 136.00H91.15M87.50 146.25H91.15M91.15 136.00V146.25M92.10 116.06H98.20M91.15 141.12H98.20M98.20 116.06V141.12M101.10 50.46H103.00M98.20 128.59H103.00M103.00 50.46V128.59M83.04 155.00V157.00M83.04 156.00H84.72M84.72 153.00V156.00M83.55 159.00V161.00M84.72 154.50H87.50M83.55 160.00H87.50M87.50 154.50V160.00M83.33 163.00V165.00M83.37 167.00V169.00M83.37 168.00H84.88M84.88 168.00V171.00M83.33 164.00H88.70M84.88 169.50H88.70M88.70 164.00V169.50M87.50 157.25H91.58M88.70 166.75H91.58M91.58 157.25V166.75M82.80 173.00V175.00M82.80 174.00H85.94M85.94 174.00V177.00M84.22 181.00V183.00M84.22 182.00H86.30M86.30 179.00V182.00M85.94 175.50H88.29M86.30 180.50H88.29M88.29 175.50V180.50M82.51 185.00V187.00M82.51 186.00H86.07M86.07 186.00V189.00M88.29 178.00H91.02M86.07 187.50H91.02M91.02 178.00V187.50M91.58 162.00H101.20M91.02 182.75H101.20M101.20 162.00V182.75M103.00 89.53H111.60M101.20 172.38H111.60M111.60 89.53V172.38M83.08 193.00V195.00M83.08 194.00H84.77M84.77 191.00V194.00M83.25 197.00V199.00M83.82 201.00V203.00M83.25 198.00H86.05M83.82 202.00H86.05M86.05 198.00V202.00M84.77 192.50H89.21M86.05 200.00H89.21M89.21 192.50V200.00M83.60 205.00V207.00M83.27 209.00V211.00M83.60 206.00H87.58M83.27 210.00H87.58M87.58 206.00V210.00M82.85 213.00V215.00M83.99 217.00V219.00M82.85 214.00H87.40M83.99 218.00H87.40M87.40 214.00V218.00M87.58 208.00H91.06M87.40 216.00H91.06M91.06 208.00V216.00M89.21 196.25H98.80M91.06 212.00H98.80M98.80 196.25V212.00M83.29 221.00V223.00M83.29 222.00H86.06M86.06 222.00V225.00M83.73 227.00V229.00M82.88 231.00V233.00M82.88 232.00H84.67M84.67 232.00V235.00M83.73 228.00H88.63M84.67 233.50H88.63M88.63 228.00V233.50M86.06 223.50H90.43M88.63 230.75H90.43M90.43 223.50V230.75M83.37 237.00V239.00M83.37 238.00H84.68M84.68 238.00V241.00M82.50 243.00V245.00M82.50 244.00H84.85M84.85 244.00V247.00M84.68 239.50H88.88M84.85 245.50H88.88M88.88 239.50V245.50M82.58 251.00V253.00M82.58 252.00H84.56M84.56 249.00V252.00M83.04 255.00V257.00M84.56 250.50H87.92M83.04 256.00H87.92M87.92 250.50V256.00M88.88 242.50H91.45M87.92 253.25H91.45M91.45 242.50V253.25M90.43 227.12H103.50M91.45 247.88H103.50M103.50 227.12V247.88M82.99 259.04V261.12M84.41 263.21V265.29M82.99 260.08H86.96M84.41 264.25H86.96M86.96 260.08V264.25M82.59 267.38V269.46M86.96 262.17H90.20M82.59 268.42H90.20M90.20 262.17V268.42M103.50 237.50H109.80M90.20 265.29H109.80M109.80 237.50V265.29M98.80 204.12H117.90M109.80 251.40H117.90M117.90 204.12V251.40M111.60 130.95H125.80M117.90 227.76H125.80M125.80 130.95V227.76M125.80 179.36H205.5" stroke="#d97a92" stroke-width="0.9" fill="none"/><path d="M78.20 272.38H89.33M78.20 274.29H89.33M78.20 276.21H90.46M78.20 270.46H92.67M78.20 278.12H89.77M78.20 280.04H89.77M78.20 282.08H89.70M78.20 284.25H89.70M78.20 286.42H90.70M78.20 288.58H92.37M78.20 290.75H89.46M78.20 292.92H89.46M78.20 295.00H89.19M78.20 297.00H89.19M78.20 299.00H90.50M78.20 301.00H89.57M78.20 303.00H89.57M78.20 305.04H89.41M78.20 307.11H89.41M78.20 309.18H91.16M78.20 311.25H90.14M78.20 313.32H90.14M78.20 315.39H88.64M78.20 317.46H88.64" stroke="#b2dcb2" stroke-width="0.9" fill="none"/><path d="M89.33 272.38V274.29M89.33 273.33H90.46M90.46 273.33V276.21M90.46 274.77H92.67M92.67 270.46V274.77M89.77 278.12V280.04M92.67 272.61H103.30M89.77 279.08H103.30M103.30 272.61V279.08M89.70 282.08V284.25M89.70 283.17H90.70M90.70 283.17V286.42M90.70 284.79H92.37M92.37 284.79V288.58M89.46 290.75V292.92M92.37 286.69H100.50M89.46 291.83H100.50M100.50 286.69V291.83M103.30 275.85H113.20M100.50 289.26H113.20M113.20 275.85V289.26M89.19 295.00V297.00M89.19 296.00H90.50M90.50 296.00V299.00M89.57 301.00V303.00M90.50 297.50H98.10M89.57 302.00H98.10M98.10 297.50V302.00M113.20 282.55H119.50M98.10 299.75H119.50M119.50 282.55V299.75M89.41 305.04V307.11M89.41 306.07H91.16M91.16 306.07V309.18M90.14 311.25V313.32M91.16 307.62H92.65M90.14 312.29H92.65M92.65 307.62V312.29M88.64 315.39V317.46M92.65 309.96H106.20M88.64 316.43H106.20M106.20 309.96V316.43M119.50 291.15H122.40M106.20 313.19H122.40M122.40 291.15V313.19M122.40 302.17H169" stroke="#7cc47c" stroke-width="0.9" fill="none"/><path d="M78.20 319.47H88.07M78.20 321.42H88.07M78.20 323.36H87.70M78.20 325.31H87.70M78.20 327.25H88.39M78.20 329.19H88.39M78.20 331.14H87.18M78.20 333.08H87.18M78.20 335.03H89.01M78.20 337.00H87.27M78.20 339.00H87.27M78.20 341.00H89.24M78.20 343.00H87.76M78.20 345.00H87.76M78.20 347.00H87.82M78.20 349.00H87.82M78.20 353.00H88.14M78.20 355.00H88.14M78.20 357.00H89.95M78.20 351.00H91.95M78.20 359.00H87.71M78.20 361.00H87.71M78.20 367.00H87.40M78.20 369.00H87.40M78.20 365.00H89.39M78.20 363.00H91.06M78.20 371.00H88.31M78.20 373.00H88.31M78.20 375.00H89.57M78.20 377.00H87.97M78.20 379.00H87.97M78.20 381.00H88.58M78.20 383.00H88.58M78.20 385.00H89.18M78.20 387.00H89.18M78.20 391.00H88.18M78.20 393.00H88.18M78.20 389.00H89.29M78.20 395.00H91.26" stroke="#b2c0f0" stroke-width="0.9" fill="none"/><path d="M88.07 319.47V321.42M87.70 323.36V325.31M88.07 320.44H90.91M87.70 324.33H90.91M90.91 320.44V324.33M88.39 327.25V329.19M90.91 322.39H92.30M88.39 328.22H92.30M92.30 322.39V328.22M87.18 331.14V333.08M87.18 332.11H89.01M89.01 332.11V335.03M92.30 325.31H95.70M89.01 333.57H95.70M95.70 325.31V333.57M87.27 337.00V339.00M87.27 338.00H89.24M89.24 338.00V341.00M87.76 343.00V345.00M89.24 339.50H92.29M87.76 344.00H92.29M92.29 339.50V344.00M87.82 347.00V349.00M92.29 341.75H96.50M87.82 348.00H96.50M96.50 341.75V348.00M95.70 329.44H102.20M96.50 344.88H102.20M102.20 329.44V344.88M88.14 353.00V355.00M88.14 354.00H89.95M89.95 354.00V357.00M89.95 355.50H91.95M91.95 351.00V355.50M87.71 359.00V361.00M91.95 353.25H97.30M87.71 360.00H97.30M97.30 353.25V360.00M87.40 367.00V369.00M87.40 368.00H89.39M89.39 365.00V368.00M89.39 366.50H91.06M91.06 363.00V366.50M88.31 371.00V373.00M88.31 372.00H89.57M89.57 372.00V375.00M91.06 364.75H102.20M89.57 373.50H102.20M102.20 364.75V373.50M97.30 356.62H115.30M102.20 369.12H115.30M115.30 356.62V369.12M102.20 337.16H131.70M115.30 362.88H131.70M131.70 337.16V362.88M87.97 377.00V379.00M88.58 381.00V383.00M87.97 378.00H90.80M88.58 382.00H90.80M90.80 378.00V382.00M89.18 385.00V387.00M90.80 380.00H93.53M89.18 386.00H93.53M93.53 380.00V386.00M88.18 391.00V393.00M88.18 392.00H89.29M89.29 389.00V392.00M89.29 390.50H91.26M91.26 390.50V395.00M93.53 383.00H99.80M91.26 392.75H99.80M99.80 383.00V392.75M131.70 350.02H139.90M99.80 387.88H139.90M139.90 350.02V387.88M139.90 368.95H169" stroke="#7390dc" stroke-width="0.9" fill="none"/><path d="M78.20 397.00H87.09M78.20 399.00H87.09M78.20 401.00H88.70M78.20 403.00H86.75M78.20 405.00H86.75M78.20 407.00H86.55M78.20 409.00H86.55M78.20 411.00H88.44M78.20 414.85H87.27M78.20 416.75H87.27M78.20 412.95H88.51M78.20 418.65H96.00" stroke="#f0cab0" stroke-width="0.9" fill="none"/><path d="M87.09 397.00V399.00M87.09 398.00H88.70M88.70 398.00V401.00M86.75 403.00V405.00M88.70 399.50H91.97M86.75 404.00H91.97M91.97 399.50V404.00M86.55 407.00V409.00M86.55 408.00H88.44M88.44 408.00V411.00M91.97 401.75H104.00M88.44 409.50H104.00M104.00 401.75V409.50M87.27 414.85V416.75M87.27 415.80H88.51M88.51 412.95V415.80M88.51 414.38H96.00M96.00 414.38V418.65M104.00 405.62H111.40M96.00 416.51H111.40M111.40 405.62V416.51M111.40 411.07H308" stroke="#e6ac80" stroke-width="0.9" fill="none"/><path d="M169 302.17V368.95M169 335.56H205.5M205.5 179.36V335.56M205.5 257.46H308M308 257.46V411.07M308 334.26H331" stroke="#5e5e5e" stroke-width="0.9" fill="none"/></g>
<defs><linearGradient id="lf" x1="0" x2="1" y1="0" y2="0"><stop offset="0" stop-color="#fff" stop-opacity="0.55"/><stop offset="0.55" stop-color="#fff" stop-opacity="0.3"/><stop offset="1" stop-color="#fff" stop-opacity="0"/></linearGradient></defs>
<g opacity="0.9"><rect x="3.07" y="2.95" width="3.45" height="1.3" fill="#d5809c" fill-opacity="0.59"/><rect x="3.49" y="4.96" width="2.69" height="1.3" fill="#d5809c" fill-opacity="0.92"/><rect x="3.08" y="6.97" width="4.09" height="1.3" fill="#d5809c" fill-opacity="0.49"/><rect x="3.28" y="8.97" width="3.74" height="1.3" fill="#d5809c" fill-opacity="0.87"/><rect x="3.38" y="10.98" width="3.18" height="1.3" fill="#d5809c" fill-opacity="0.72"/><rect x="3.41" y="12.99" width="3.70" height="1.3" fill="#d5809c" fill-opacity="0.71"/><rect x="3.08" y="14.99" width="3.93" height="1.3" fill="#d5809c" fill-opacity="0.86"/><rect x="3.42" y="17.00" width="3.22" height="1.3" fill="#d5809c" fill-opacity="0.88"/><rect x="3.13" y="19.01" width="4.03" height="1.3" fill="#d5809c" fill-opacity="0.60"/><rect x="3.06" y="21.01" width="2.95" height="1.3" fill="#d5809c" fill-opacity="0.67"/><rect x="3.07" y="23.02" width="3.46" height="1.3" fill="#d5809c" fill-opacity="0.58"/><rect x="3.37" y="25.03" width="3.08" height="1.3" fill="#d5809c" fill-opacity="0.57"/><rect x="3.46" y="27.03" width="3.60" height="1.3" fill="#d5809c" fill-opacity="0.67"/><rect x="3.41" y="29.04" width="3.60" height="1.3" fill="#d5809c" fill-opacity="0.81"/><rect x="2.90" y="31.05" width="3.52" height="1.3" fill="#d5809c" fill-opacity="0.65"/><rect x="3.11" y="33.05" width="3.41" height="1.3" fill="#d5809c" fill-opacity="0.64"/><rect x="3.16" y="35.06" width="3.85" height="1.3" fill="#d5809c" fill-opacity="0.84"/><rect x="3.11" y="37.07" width="3.93" height="1.3" fill="#d5809c" fill-opacity="0.78"/><rect x="3.38" y="39.08" width="2.57" height="1.3" fill="#d5809c" fill-opacity="0.87"/><rect x="3.49" y="41.08" width="3.48" height="1.3" fill="#d5809c" fill-opacity="0.80"/><rect x="2.92" y="43.09" width="3.96" height="1.3" fill="#d5809c" fill-opacity="0.62"/><rect x="2.94" y="45.10" width="2.93" height="1.3" fill="#d5809c" fill-opacity="0.62"/><rect x="3.17" y="47.10" width="4.16" height="1.3" fill="#d5809c" fill-opacity="0.77"/><rect x="3.15" y="49.11" width="3.16" height="1.3" fill="#d5809c" fill-opacity="0.81"/><rect x="3.50" y="51.12" width="3.22" height="1.3" fill="#d5809c" fill-opacity="0.59"/><rect x="3.40" y="53.12" width="4.20" height="1.3" fill="#d5809c" fill-opacity="0.75"/><rect x="3.37" y="55.13" width="2.58" height="1.3" fill="#d5809c" fill-opacity="0.95"/><rect x="2.90" y="57.14" width="2.72" height="1.3" fill="#d5809c" fill-opacity="0.64"/><rect x="3.34" y="59.14" width="3.58" height="1.3" fill="#d5809c" fill-opacity="0.92"/><rect x="3.13" y="61.15" width="3.48" height="1.3" fill="#d5809c" fill-opacity="0.77"/><rect x="3.33" y="63.16" width="4.17" height="1.3" fill="#d5809c" fill-opacity="0.66"/><rect x="3.41" y="65.16" width="3.40" height="1.3" fill="#d5809c" fill-opacity="0.72"/><rect x="3.06" y="67.17" width="2.77" height="1.3" fill="#d5809c" fill-opacity="0.87"/><rect x="3.39" y="69.18" width="2.83" height="1.3" fill="#d5809c" fill-opacity="0.94"/><rect x="3.33" y="71.18" width="3.40" height="1.3" fill="#d5809c" fill-opacity="0.58"/><rect x="3.06" y="73.19" width="3.44" height="1.3" fill="#d5809c" fill-opacity="0.78"/><rect x="3.14" y="75.20" width="3.66" height="1.3" fill="#d5809c" fill-opacity="0.62"/><rect x="2.98" y="77.20" width="4.09" height="1.3" fill="#d5809c" fill-opacity="0.88"/><rect x="2.93" y="79.21" width="4.17" height="1.3" fill="#d5809c" fill-opacity="0.91"/><rect x="3.37" y="81.22" width="3.06" height="1.3" fill="#d5809c" fill-opacity="0.61"/><rect x="3.04" y="83.22" width="3.85" height="1.3" fill="#d5809c" fill-opacity="0.47"/><rect x="2.94" y="85.23" width="3.79" height="1.3" fill="#d5809c" fill-opacity="0.74"/><rect x="3.44" y="87.24" width="2.75" height="1.3" fill="#d5809c" fill-opacity="0.58"/><rect x="3.24" y="89.24" width="2.52" height="1.3" fill="#d5809c" fill-opacity="0.81"/><rect x="3.34" y="91.25" width="3.30" height="1.3" fill="#d5809c" fill-opacity="0.47"/><rect x="2.95" y="93.26" width="3.27" height="1.3" fill="#d5809c" fill-opacity="0.78"/><rect x="2.99" y="95.26" width="2.62" height="1.3" fill="#d5809c" fill-opacity="0.53"/><rect x="3.18" y="97.27" width="4.12" height="1.3" fill="#d5809c" fill-opacity="0.70"/><rect x="3.46" y="99.28" width="2.52" height="1.3" fill="#d5809c" fill-opacity="0.91"/><rect x="3.13" y="101.28" width="3.82" height="1.3" fill="#d5809c" fill-opacity="0.84"/><rect x="3.16" y="103.29" width="3.50" height="1.3" fill="#d5809c" fill-opacity="0.77"/><rect x="3.28" y="105.30" width="2.99" height="1.3" fill="#d5809c" fill-opacity="0.52"/><rect x="3.04" y="107.31" width="3.87" height="1.3" fill="#d5809c" fill-opacity="0.75"/><rect x="3.17" y="109.31" width="3.42" height="1.3" fill="#d5809c" fill-opacity="0.91"/><rect x="3.20" y="111.32" width="2.55" height="1.3" fill="#d5809c" fill-opacity="0.59"/><rect x="3.31" y="113.33" width="3.04" height="1.3" fill="#d5809c" fill-opacity="0.85"/><rect x="3.13" y="115.33" width="2.58" height="1.3" fill="#d5809c" fill-opacity="0.92"/><rect x="2.90" y="117.34" width="3.11" height="1.3" fill="#d5809c" fill-opacity="0.87"/><rect x="3.40" y="119.35" width="3.45" height="1.3" fill="#d5809c" fill-opacity="0.89"/><rect x="3.35" y="121.35" width="4.05" height="1.3" fill="#d5809c" fill-opacity="0.93"/><rect x="3.49" y="123.36" width="3.89" height="1.3" fill="#d5809c" fill-opacity="0.57"/><rect x="3.07" y="125.37" width="3.54" height="1.3" fill="#d5809c" fill-opacity="0.77"/><rect x="3.41" y="127.37" width="3.81" height="1.3" fill="#d5809c" fill-opacity="0.93"/><rect x="2.92" y="129.38" width="2.55" height="1.3" fill="#d5809c" fill-opacity="0.63"/><rect x="3.12" y="131.39" width="3.06" height="1.3" fill="#d5809c" fill-opacity="0.70"/><rect x="3.43" y="133.39" width="3.33" height="1.3" fill="#d5809c" fill-opacity="0.86"/><rect x="3.40" y="135.40" width="3.12" height="1.3" fill="#d5809c" fill-opacity="0.83"/><rect x="3.31" y="137.41" width="2.59" height="1.3" fill="#d5809c" fill-opacity="0.83"/><rect x="3.33" y="139.41" width="3.61" height="1.3" fill="#d5809c" fill-opacity="0.67"/><rect x="3.06" y="141.42" width="2.86" height="1.3" fill="#d5809c" fill-opacity="0.77"/><rect x="2.92" y="143.43" width="2.79" height="1.3" fill="#d5809c" fill-opacity="0.51"/><rect x="2.98" y="145.43" width="3.23" height="1.3" fill="#d5809c" fill-opacity="0.89"/><rect x="3.41" y="147.44" width="3.20" height="1.3" fill="#d5809c" fill-opacity="0.79"/><rect x="3.31" y="149.45" width="2.51" height="1.3" fill="#d5809c" fill-opacity="0.92"/><rect x="2.97" y="151.45" width="2.82" height="1.3" fill="#d5809c" fill-opacity="0.55"/><rect x="3.03" y="153.46" width="3.56" height="1.3" fill="#d5809c" fill-opacity="0.49"/><rect x="3.00" y="155.47" width="2.86" height="1.3" fill="#d5809c" fill-opacity="0.79"/><rect x="3.07" y="157.47" width="3.50" height="1.3" fill="#d5809c" fill-opacity="0.91"/><rect x="3.36" y="159.48" width="3.41" height="1.3" fill="#d5809c" fill-opacity="0.80"/><rect x="3.39" y="161.49" width="3.70" height="1.3" fill="#d5809c" fill-opacity="0.49"/><rect x="3.02" y="163.49" width="3.57" height="1.3" fill="#d5809c" fill-opacity="0.93"/><rect x="3.02" y="165.50" width="3.93" height="1.3" fill="#d5809c" fill-opacity="0.60"/><rect x="3.07" y="167.51" width="2.63" height="1.3" fill="#d5809c" fill-opacity="0.71"/><rect x="2.96" y="169.52" width="2.71" height="1.3" fill="#d5809c" fill-opacity="0.71"/><rect x="2.98" y="171.52" width="2.96" height="1.3" fill="#d5809c" fill-opacity="0.55"/><rect x="3.24" y="173.53" width="3.46" height="1.3" fill="#d5809c" fill-opacity="0.55"/><rect x="3.29" y="175.54" width="2.99" height="1.3" fill="#d5809c" fill-opacity="0.68"/><rect x="3.46" y="177.54" width="3.11" height="1.3" fill="#d5809c" fill-opacity="0.89"/><rect x="3.21" y="179.55" width="3.32" height="1.3" fill="#d5809c" fill-opacity="0.60"/><rect x="3.37" y="181.56" width="3.18" height="1.3" fill="#d5809c" fill-opacity="0.57"/><rect x="3.11" y="183.56" width="2.54" height="1.3" fill="#d5809c" fill-opacity="0.70"/><rect x="3.14" y="185.57" width="2.91" height="1.3" fill="#d5809c" fill-opacity="0.70"/><rect x="3.29" y="187.58" width="4.14" height="1.3" fill="#d5809c" fill-opacity="0.75"/><rect x="2.91" y="189.58" width="3.11" height="1.3" fill="#d5809c" fill-opacity="0.84"/><rect x="2.92" y="191.59" width="3.38" height="1.3" fill="#d5809c" fill-opacity="0.72"/><rect x="3.37" y="193.60" width="3.71" height="1.3" fill="#d5809c" fill-opacity="0.54"/><rect x="3.46" y="195.60" width="4.09" height="1.3" fill="#d5809c" fill-opacity="0.69"/><rect x="3.00" y="197.61" width="3.82" height="1.3" fill="#d5809c" fill-opacity="0.82"/><rect x="3.50" y="199.62" width="2.79" height="1.3" fill="#d5809c" fill-opacity="0.86"/><rect x="3.32" y="201.62" width="2.51" height="1.3" fill="#d5809c" fill-opacity="0.67"/><rect x="3.02" y="203.63" width="3.35" height="1.3" fill="#d5809c" fill-opacity="0.50"/><rect x="3.39" y="205.64" width="2.52" height="1.3" fill="#d5809c" fill-opacity="0.46"/><rect x="3.32" y="207.64" width="2.51" height="1.3" fill="#d5809c" fill-opacity="0.81"/><rect x="3.32" y="209.65" width="3.47" height="1.3" fill="#d5809c" fill-opacity="0.88"/><rect x="3.10" y="211.66" width="2.80" height="1.3" fill="#d5809c" fill-opacity="0.47"/><rect x="3.46" y="213.66" width="3.26" height="1.3" fill="#d5809c" fill-opacity="0.73"/><rect x="3.47" y="215.67" width="2.59" height="1.3" fill="#d5809c" fill-opacity="0.77"/><rect x="3.47" y="217.68" width="2.67" height="1.3" fill="#d5809c" fill-opacity="0.52"/><rect x="3.20" y="219.68" width="2.82" height="1.3" fill="#d5809c" fill-opacity="0.65"/><rect x="2.92" y="221.69" width="2.91" height="1.3" fill="#d5809c" fill-opacity="0.76"/><rect x="3.02" y="223.70" width="3.27" height="1.3" fill="#d5809c" fill-opacity="0.80"/><rect x="3.34" y="225.70" width="3.53" height="1.3" fill="#d5809c" fill-opacity="0.88"/><rect x="3.06" y="227.71" width="3.91" height="1.3" fill="#d5809c" fill-opacity="0.86"/><rect x="3.14" y="229.72" width="3.79" height="1.3" fill="#d5809c" fill-opacity="0.65"/><rect x="3.40" y="231.72" width="3.92" height="1.3" fill="#d5809c" fill-opacity="0.89"/><rect x="3.24" y="233.73" width="3.07" height="1.3" fill="#d5809c" fill-opacity="0.78"/><rect x="3.23" y="235.74" width="3.19" height="1.3" fill="#d5809c" fill-opacity="0.70"/><rect x="3.16" y="237.75" width="4.04" height="1.3" fill="#d5809c" fill-opacity="0.84"/><rect x="3.03" y="239.75" width="3.40" height="1.3" fill="#d5809c" fill-opacity="0.59"/><rect x="3.34" y="241.76" width="2.97" height="1.3" fill="#d5809c" fill-opacity="0.55"/><rect x="2.91" y="243.77" width="3.23" height="1.3" fill="#d5809c" fill-opacity="0.67"/><rect x="3.26" y="245.77" width="3.32" height="1.3" fill="#d5809c" fill-opacity="0.63"/><rect x="3.32" y="247.78" width="2.84" height="1.3" fill="#d5809c" fill-opacity="0.78"/><rect x="3.33" y="249.79" width="2.78" height="1.3" fill="#d5809c" fill-opacity="0.70"/><rect x="3.41" y="251.79" width="3.53" height="1.3" fill="#d5809c" fill-opacity="0.71"/><rect x="3.33" y="253.80" width="3.96" height="1.3" fill="#d5809c" fill-opacity="0.92"/><rect x="3.09" y="255.81" width="3.09" height="1.3" fill="#d5809c" fill-opacity="0.77"/><rect x="3.02" y="257.81" width="4.17" height="1.3" fill="#d5809c" fill-opacity="0.59"/><rect x="2.91" y="259.82" width="2.79" height="1.3" fill="#d5809c" fill-opacity="0.63"/><rect x="3.21" y="261.83" width="3.45" height="1.3" fill="#d5809c" fill-opacity="0.74"/><rect x="3.26" y="263.83" width="3.40" height="1.3" fill="#d5809c" fill-opacity="0.58"/><rect x="3.39" y="265.84" width="3.26" height="1.3" fill="#d5809c" fill-opacity="0.63"/><rect x="3.03" y="267.85" width="3.11" height="1.3" fill="#d5809c" fill-opacity="0.87"/><rect x="3.18" y="269.87" width="3.67" height="1.3" fill="#80c080" fill-opacity="0.82"/><rect x="3.23" y="271.91" width="3.35" height="1.3" fill="#80c080" fill-opacity="0.69"/><rect x="3.30" y="273.95" width="3.78" height="1.3" fill="#80c080" fill-opacity="0.46"/><rect x="3.04" y="276.00" width="3.26" height="1.3" fill="#80c080" fill-opacity="0.56"/><rect x="3.29" y="278.04" width="3.99" height="1.3" fill="#80c080" fill-opacity="0.80"/><rect x="3.36" y="280.08" width="4.05" height="1.3" fill="#80c080" fill-opacity="0.91"/><rect x="3.36" y="282.12" width="4.08" height="1.3" fill="#80c080" fill-opacity="0.87"/><rect x="3.11" y="284.16" width="3.42" height="1.3" fill="#80c080" fill-opacity="0.79"/><rect x="3.24" y="286.20" width="2.59" height="1.3" fill="#80c080" fill-opacity="0.85"/><rect x="3.45" y="288.25" width="3.93" height="1.3" fill="#80c080" fill-opacity="0.94"/><rect x="3.34" y="290.29" width="4.08" height="1.3" fill="#80c080" fill-opacity="0.49"/><rect x="3.19" y="292.33" width="3.31" height="1.3" fill="#80c080" fill-opacity="0.86"/><rect x="3.07" y="294.37" width="2.87" height="1.3" fill="#80c080" fill-opacity="0.87"/><rect x="3.41" y="296.41" width="4.04" height="1.3" fill="#80c080" fill-opacity="0.59"/><rect x="3.06" y="298.45" width="2.93" height="1.3" fill="#80c080" fill-opacity="0.77"/><rect x="2.91" y="300.50" width="3.10" height="1.3" fill="#80c080" fill-opacity="0.46"/><rect x="3.04" y="302.54" width="2.64" height="1.3" fill="#80c080" fill-opacity="0.63"/><rect x="3.05" y="304.58" width="2.88" height="1.3" fill="#80c080" fill-opacity="0.86"/><rect x="3.06" y="306.62" width="2.87" height="1.3" fill="#80c080" fill-opacity="0.68"/><rect x="3.37" y="308.66" width="2.92" height="1.3" fill="#80c080" fill-opacity="0.92"/><rect x="3.38" y="310.70" width="3.75" height="1.3" fill="#80c080" fill-opacity="0.56"/><rect x="2.94" y="312.75" width="3.30" height="1.3" fill="#80c080" fill-opacity="0.51"/><rect x="3.13" y="314.79" width="3.01" height="1.3" fill="#80c080" fill-opacity="0.74"/><rect x="3.03" y="316.83" width="2.71" height="1.3" fill="#80c080" fill-opacity="0.69"/><rect x="3.36" y="318.84" width="3.57" height="1.3" fill="#7c94dc" fill-opacity="0.59"/><rect x="3.49" y="320.83" width="3.90" height="1.3" fill="#7c94dc" fill-opacity="0.74"/><rect x="2.91" y="322.82" width="2.82" height="1.3" fill="#7c94dc" fill-opacity="0.53"/><rect x="3.11" y="324.81" width="3.93" height="1.3" fill="#7c94dc" fill-opacity="0.92"/><rect x="3.33" y="326.79" width="2.63" height="1.3" fill="#7c94dc" fill-opacity="0.54"/><rect x="3.20" y="328.78" width="3.70" height="1.3" fill="#7c94dc" fill-opacity="0.50"/><rect x="3.40" y="330.77" width="3.61" height="1.3" fill="#7c94dc" fill-opacity="0.56"/><rect x="2.92" y="332.75" width="2.61" height="1.3" fill="#7c94dc" fill-opacity="0.60"/><rect x="2.92" y="334.74" width="2.67" height="1.3" fill="#7c94dc" fill-opacity="0.83"/><rect x="2.92" y="336.73" width="4.03" height="1.3" fill="#7c94dc" fill-opacity="0.84"/><rect x="3.34" y="338.72" width="3.84" height="1.3" fill="#7c94dc" fill-opacity="0.56"/><rect x="3.19" y="340.70" width="3.99" height="1.3" fill="#7c94dc" fill-opacity="0.82"/><rect x="3.37" y="342.69" width="3.89" height="1.3" fill="#7c94dc" fill-opacity="0.62"/><rect x="3.01" y="344.68" width="2.65" height="1.3" fill="#7c94dc" fill-opacity="0.91"/><rect x="3.41" y="346.66" width="3.07" height="1.3" fill="#7c94dc" fill-opacity="0.52"/><rect x="2.98" y="348.65" width="3.88" height="1.3" fill="#7c94dc" fill-opacity="0.64"/><rect x="3.06" y="350.64" width="3.45" height="1.3" fill="#7c94dc" fill-opacity="0.55"/><rect x="3.26" y="352.63" width="3.16" height="1.3" fill="#7c94dc" fill-opacity="0.55"/><rect x="3.41" y="354.61" width="3.24" height="1.3" fill="#7c94dc" fill-opacity="0.91"/><rect x="3.43" y="356.60" width="3.45" height="1.3" fill="#7c94dc" fill-opacity="0.64"/><rect x="3.03" y="358.59" width="3.30" height="1.3" fill="#7c94dc" fill-opacity="0.78"/><rect x="3.29" y="360.57" width="2.91" height="1.3" fill="#7c94dc" fill-opacity="0.79"/><rect x="3.15" y="362.56" width="2.78" height="1.3" fill="#7c94dc" fill-opacity="0.74"/><rect x="3.06" y="364.55" width="3.24" height="1.3" fill="#7c94dc" fill-opacity="0.76"/><rect x="3.01" y="366.54" width="4.00" height="1.3" fill="#7c94dc" fill-opacity="0.54"/><rect x="3.25" y="368.52" width="3.36" height="1.3" fill="#7c94dc" fill-opacity="0.51"/><rect x="3.06" y="370.51" width="3.53" height="1.3" fill="#7c94dc" fill-opacity="0.73"/><rect x="3.15" y="372.50" width="2.62" height="1.3" fill="#7c94dc" fill-opacity="0.79"/><rect x="3.26" y="374.48" width="4.04" height="1.3" fill="#7c94dc" fill-opacity="0.56"/><rect x="2.94" y="376.47" width="3.23" height="1.3" fill="#7c94dc" fill-opacity="0.55"/><rect x="3.48" y="378.46" width="3.33" height="1.3" fill="#7c94dc" fill-opacity="0.82"/><rect x="3.30" y="380.45" width="2.63" height="1.3" fill="#7c94dc" fill-opacity="0.52"/><rect x="3.48" y="382.43" width="2.71" height="1.3" fill="#7c94dc" fill-opacity="0.82"/><rect x="3.34" y="384.42" width="4.13" height="1.3" fill="#7c94dc" fill-opacity="0.56"/><rect x="3.26" y="386.41" width="3.79" height="1.3" fill="#7c94dc" fill-opacity="0.73"/><rect x="3.30" y="388.39" width="3.53" height="1.3" fill="#7c94dc" fill-opacity="0.71"/><rect x="3.05" y="390.38" width="2.73" height="1.3" fill="#7c94dc" fill-opacity="0.67"/><rect x="3.25" y="392.37" width="3.20" height="1.3" fill="#7c94dc" fill-opacity="0.64"/><rect x="3.36" y="394.36" width="2.85" height="1.3" fill="#7c94dc" fill-opacity="0.56"/><rect x="3.02" y="396.33" width="3.51" height="1.3" fill="#e4a878" fill-opacity="0.66"/><rect x="2.96" y="398.30" width="2.79" height="1.3" fill="#e4a878" fill-opacity="0.82"/><rect x="3.32" y="400.27" width="3.50" height="1.3" fill="#e4a878" fill-opacity="0.67"/><rect x="3.26" y="402.23" width="2.91" height="1.3" fill="#e4a878" fill-opacity="0.90"/><rect x="3.25" y="404.20" width="2.52" height="1.3" fill="#e4a878" fill-opacity="0.66"/><rect x="3.08" y="406.17" width="3.30" height="1.3" fill="#e4a878" fill-opacity="0.74"/><rect x="3.03" y="408.13" width="2.51" height="1.3" fill="#e4a878" fill-opacity="0.68"/><rect x="2.94" y="410.10" width="2.70" height="1.3" fill="#e4a878" fill-opacity="0.62"/><rect x="3.10" y="412.07" width="3.24" height="1.3" fill="#e4a878" fill-opacity="0.69"/><rect x="3.17" y="414.03" width="4.14" height="1.3" fill="#e4a878" fill-opacity="0.81"/><rect x="3.25" y="416.00" width="2.72" height="1.3" fill="#e4a878" fill-opacity="0.93"/><rect x="3.16" y="417.97" width="3.86" height="1.3" fill="#e4a878" fill-opacity="0.58"/></g>
<g><rect x="0" y="59.8" width="78.2" height="1.7" fill="#fff" fill-opacity="0.85"/><rect x="78.2" y="59.8" width="262" height="1.7" fill="#fff" fill-opacity="0.25"/><rect x="0" y="120.4" width="78.2" height="1.7" fill="#fff" fill-opacity="0.62"/><rect x="78.2" y="120.4" width="262" height="1.7" fill="#fff" fill-opacity="0.25"/><rect x="0" y="180.3" width="78.2" height="1.7" fill="#fff" fill-opacity="0.66"/><rect x="78.2" y="180.3" width="262" height="1.7" fill="#fff" fill-opacity="0.25"/><rect x="0" y="240.4" width="78.2" height="1.7" fill="#fff" fill-opacity="0.78"/><rect x="78.2" y="240.4" width="262" height="1.7" fill="#fff" fill-opacity="0.25"/><rect x="0" y="300.2" width="78.2" height="1.7" fill="#fff" fill-opacity="0.62"/><rect x="78.2" y="300.2" width="262" height="1.7" fill="#fff" fill-opacity="0.25"/><rect x="0" y="360.3" width="78.2" height="1.7" fill="#fff" fill-opacity="0.64"/><rect x="78.2" y="360.3" width="262" height="1.7" fill="#fff" fill-opacity="0.25"/></g>
<path d="M20.90 420.30V445.50M26.90 420.30V442.30M32.90 420.30V442.30M26.90 442.30H32.90M29.90 442.30V445.50M20.90 445.50H29.90M25.40 445.50V449.90M38.90 420.30V437.10M44.90 420.30V437.10M38.90 437.10H44.90M50.90 420.30V437.70M56.90 420.30V437.70M50.90 437.70H56.90M41.90 437.10V440.70M53.90 437.70V440.70M41.90 440.70H53.90M47.90 440.70V449.10M62.90 420.30V449.10M47.90 449.10H62.90M25.40 449.90H55.40M40.40 449.90V463.40M68.90 420.30V440.10M74.90 420.30V440.10M68.90 440.10H74.90M71.90 440.10V463.40M40.40 463.40H71.90M56.15 463.40V467.80" stroke="#8a8a8a" stroke-width="1" fill="none"/>
<g font-family="Liberation Sans" font-size="10.4" fill="#2a2a2a" stroke="#2a2a2a" stroke-width="0.2"><text transform="translate(21.00 504.5) rotate(-90) scale(1 0.57)" x="0" y="0" textLength="27.8" lengthAdjust="spacingAndGlyphs">MTTS</text><text transform="translate(27.00 504.5) rotate(-90) scale(1 0.57)" x="0" y="0" textLength="30.5" lengthAdjust="spacingAndGlyphs">PKRCS</text><text transform="translate(33.00 504.5) rotate(-90) scale(1 0.57)" x="0" y="0" textLength="26.5" lengthAdjust="spacingAndGlyphs">PJTSS</text><text transform="translate(39.00 504.5) rotate(-90) scale(1 0.57)" x="0" y="0" textLength="30.5" lengthAdjust="spacingAndGlyphs">MFHPs</text><text transform="translate(45.00 504.5) rotate(-90) scale(1 0.57)" x="0" y="0" textLength="28.7" lengthAdjust="spacingAndGlyphs">MJTTS</text><text transform="translate(51.00 504.5) rotate(-90) scale(1 0.57)" x="0" y="0" textLength="28.7" lengthAdjust="spacingAndGlyphs">CTTFR</text><text transform="translate(57.00 504.5) rotate(-90) scale(1 0.57)" x="0" y="0" textLength="26.5" lengthAdjust="spacingAndGlyphs">FKTFs</text><text transform="translate(63.00 504.5) rotate(-90) scale(1 0.57)" x="0" y="0" textLength="27.5" lengthAdjust="spacingAndGlyphs">BRTrS</text><text transform="translate(69.00 504.5) rotate(-90) scale(1 0.57)" x="0" y="0" textLength="26.5" lengthAdjust="spacingAndGlyphs">fKTPs</text><text transform="translate(75.00 504.5) rotate(-90) scale(1 0.57)" x="0" y="0" textLength="28.1" lengthAdjust="spacingAndGlyphs">FSRRS</text></g>
<rect x="79.1" y="470.2" width="253.3" height="45" fill="none" stroke="#c8c8c8" stroke-width="1"/>
<line x1="326.2" y1="470.2" x2="326.2" y2="515.2" stroke="#555" stroke-width="1"/>
<path d="M79.5 514.7 C140 514.3 200 513.4 260 512.4 C290 511.7 305 510.8 312 509.6 C318 508.2 322 506.4 324.5 504.4 C326.5 502.5 327 498 328 490 C328.8 482 329.3 476 329.8 470.5" stroke="#6289dc" stroke-width="1.35" fill="none"/>
<text x="0" y="0" transform="translate(145.2 75.3) scale(0.66 1)" font-family="Liberation Sans" font-weight="bold" font-size="23" fill="#000" stroke="#000" stroke-width="0.6">a</text>
<text x="0" y="0" transform="translate(518.6 75.0) scale(0.66 1)" font-family="Liberation Sans" font-weight="bold" font-size="22.5" fill="#000" stroke="#000" stroke-width="0.6">b</text>
<g><defs><clipPath id="pa"><rect x="390.4" y="115" width="275.2" height="241.2"/></clipPath></defs><path d="M665.6 118.5V356" stroke="#cacaca" stroke-width="1.2" fill="none"/><path d="M387 117.9H666.2M390.4 117.9V356.2H665.6" stroke="#a8a8a8" stroke-width="1.4" fill="none"/><g clip-path="url(#pa)"><ellipse cx="590.5" cy="286.7" rx="26.6" ry="79.9" fill="rgb(212,72,92)" fill-opacity="0.4"/><ellipse cx="578" cy="215" rx="2.0" ry="4.2" fill="#d42c4c"/><ellipse cx="560.5" cy="176.7" rx="28.6" ry="76.3" fill="rgb(210,129,48)" fill-opacity="0.42"/><ellipse cx="445" cy="177.8" rx="23.7" ry="34.4" fill="rgb(57,107,222)" fill-opacity="0.4"/><ellipse cx="618.2" cy="183.6" rx="18" ry="33.4" fill="rgb(80,200,80)" fill-opacity="0.45"/></g><ellipse cx="410.2" cy="145.7" rx="2.0" ry="4.2" fill="#2f63d8"/><ellipse cx="437.7" cy="162.4" rx="2.0" ry="4.2" fill="#2f63d8"/><ellipse cx="436.6" cy="165.9" rx="2.0" ry="4.2" fill="#2f63d8"/><ellipse cx="422.2" cy="189.5" rx="2.0" ry="4.2" fill="#2f63d8"/><ellipse cx="425.9" cy="186.7" rx="2.0" ry="4.2" fill="#2f63d8"/><ellipse cx="450.5" cy="199.4" rx="2.0" ry="4.2" fill="#2f63d8"/><ellipse cx="456.0" cy="192.0" rx="2.0" ry="4.2" fill="#2f63d8"/><ellipse cx="462.5" cy="179.3" rx="2.0" ry="4.2" fill="#2f63d8"/><ellipse cx="473.6" cy="169.8" rx="2.0" ry="4.2" fill="#2f63d8"/><ellipse cx="472.5" cy="183.5" rx="2.0" ry="4.2" fill="#2f63d8"/><ellipse cx="510.2" cy="141.0" rx="2.0" ry="4.2" fill="#d9781c"/><ellipse cx="584.4" cy="128.9" rx="2.0" ry="4.2" fill="#d9781c"/><ellipse cx="578.7" cy="137.0" rx="2.0" ry="4.2" fill="#d9781c"/><ellipse cx="566.0" cy="138.3" rx="2.0" ry="4.2" fill="#d9781c"/><ellipse cx="564.7" cy="142.3" rx="2.0" ry="4.2" fill="#d9781c"/><ellipse cx="576.3" cy="145.8" rx="2.0" ry="4.2" fill="#d9781c"/><ellipse cx="557.1" cy="149.9" rx="2.0" ry="4.2" fill="#d9781c"/><ellipse cx="558.0" cy="155.8" rx="2.0" ry="4.2" fill="#d9781c"/><ellipse cx="558.8" cy="159.9" rx="2.0" ry="4.2" fill="#d9781c"/><ellipse cx="536.9" cy="165.3" rx="2.0" ry="4.2" fill="#d9781c"/><ellipse cx="562.5" cy="171.5" rx="2.0" ry="4.2" fill="#d9781c"/><ellipse cx="582.5" cy="182.2" rx="2.0" ry="4.2" fill="#d9781c"/><ellipse cx="577.4" cy="189.5" rx="2.0" ry="4.2" fill="#d9781c"/><ellipse cx="551.2" cy="200.3" rx="2.0" ry="4.2" fill="#d9781c"/><ellipse cx="553.9" cy="205.7" rx="2.0" ry="4.2" fill="#d9781c"/><ellipse cx="575.5" cy="205.7" rx="2.0" ry="4.2" fill="#d9781c"/><ellipse cx="574.0" cy="208.0" rx="2.0" ry="4.2" fill="#d9781c"/><ellipse cx="518.0" cy="230.0" rx="2.0" ry="4.2" fill="#d9781c"/><ellipse cx="551.2" cy="240.7" rx="2.0" ry="4.2" fill="#d9781c"/><ellipse cx="560.8" cy="278.6" rx="2.0" ry="4.2" fill="#d9781c"/><ellipse cx="577.4" cy="171.0" rx="2.0" ry="4.2" fill="#d9781c"/><ellipse cx="583.0" cy="238.5" rx="2.0" ry="4.2" fill="#d42c4c"/><ellipse cx="596.2" cy="238.5" rx="2.0" ry="4.2" fill="#d42c4c"/><ellipse cx="591.0" cy="246.2" rx="2.0" ry="4.2" fill="#d42c4c"/><ellipse cx="594.0" cy="247.8" rx="2.0" ry="4.2" fill="#d42c4c"/><ellipse cx="604.0" cy="247.8" rx="2.0" ry="4.2" fill="#d42c4c"/><ellipse cx="604.6" cy="252.4" rx="2.0" ry="4.2" fill="#d42c4c"/><ellipse cx="575.3" cy="254.0" rx="2.0" ry="4.2" fill="#d42c4c"/><ellipse cx="580.8" cy="254.0" rx="2.0" ry="4.2" fill="#d42c4c"/><ellipse cx="582.4" cy="263.2" rx="2.0" ry="4.2" fill="#d42c4c"/><ellipse cx="596.2" cy="260.0" rx="2.0" ry="4.2" fill="#d42c4c"/><ellipse cx="597.8" cy="263.2" rx="2.0" ry="4.2" fill="#d42c4c"/><ellipse cx="592.2" cy="264.7" rx="2.0" ry="4.2" fill="#d42c4c"/><ellipse cx="600.9" cy="270.9" rx="2.0" ry="4.2" fill="#d42c4c"/><ellipse cx="573.1" cy="291.0" rx="2.0" ry="4.2" fill="#d42c4c"/><ellipse cx="600.9" cy="287.9" rx="2.0" ry="4.2" fill="#d42c4c"/><ellipse cx="604.9" cy="287.9" rx="2.0" ry="4.2" fill="#d42c4c"/><ellipse cx="585.5" cy="306.3" rx="2.0" ry="4.2" fill="#d42c4c"/><ellipse cx="586.4" cy="309.4" rx="2.0" ry="4.2" fill="#d42c4c"/><ellipse cx="595.6" cy="306.3" rx="2.0" ry="4.2" fill="#d42c4c"/><ellipse cx="570.0" cy="318.7" rx="2.0" ry="4.2" fill="#d42c4c"/><ellipse cx="577.1" cy="323.3" rx="2.0" ry="4.2" fill="#d42c4c"/><ellipse cx="582.4" cy="320.2" rx="2.0" ry="4.2" fill="#d42c4c"/><ellipse cx="591.6" cy="321.8" rx="2.0" ry="4.2" fill="#d42c4c"/><ellipse cx="593.2" cy="326.4" rx="2.0" ry="4.2" fill="#d42c4c"/><ellipse cx="594.7" cy="331.0" rx="2.0" ry="4.2" fill="#d42c4c"/><ellipse cx="596.2" cy="334.0" rx="2.0" ry="4.2" fill="#d42c4c"/><ellipse cx="602.4" cy="329.5" rx="2.0" ry="4.2" fill="#d42c4c"/><ellipse cx="577.7" cy="332.6" rx="2.0" ry="4.2" fill="#d42c4c"/><ellipse cx="591.6" cy="340.3" rx="2.0" ry="4.2" fill="#d42c4c"/><ellipse cx="616.9" cy="347.3" rx="2.0" ry="4.2" fill="#d42c4c"/><ellipse cx="617.2" cy="185.2" rx="12.5" ry="29" fill="#55bb5e" fill-opacity="0.75"/><ellipse cx="599.1" cy="143.2" rx="2.0" ry="4.2" fill="#36ad40"/><ellipse cx="609.3" cy="141.7" rx="2.0" ry="4.2" fill="#36ad40"/><ellipse cx="603.4" cy="151.2" rx="2.0" ry="4.2" fill="#36ad40"/><ellipse cx="611.8" cy="150.2" rx="2.0" ry="4.2" fill="#36ad40"/><ellipse cx="599.5" cy="170.3" rx="2.0" ry="4.2" fill="#36ad40"/><ellipse cx="594.9" cy="177.8" rx="2.0" ry="4.2" fill="#36ad40"/><ellipse cx="588.5" cy="197.5" rx="2.0" ry="4.2" fill="#36ad40"/><ellipse cx="593.2" cy="197.5" rx="2.0" ry="4.2" fill="#36ad40"/><ellipse cx="602.3" cy="206.4" rx="2.0" ry="4.2" fill="#36ad40"/><ellipse cx="607.6" cy="220.2" rx="2.0" ry="4.2" fill="#36ad40"/><ellipse cx="614.0" cy="223.4" rx="2.0" ry="4.2" fill="#36ad40"/><ellipse cx="620.3" cy="219.2" rx="2.0" ry="4.2" fill="#36ad40"/><ellipse cx="625.6" cy="216.0" rx="2.0" ry="4.2" fill="#36ad40"/><ellipse cx="627.8" cy="226.6" rx="2.0" ry="4.2" fill="#36ad40"/><ellipse cx="632.0" cy="198.0" rx="2.0" ry="4.2" fill="#36ad40"/><ellipse cx="634.0" cy="181.0" rx="2.0" ry="4.2" fill="#36ad40"/><ellipse cx="584.4" cy="151.8" rx="2.0" ry="4.2" fill="#36ad40"/><ellipse cx="609.2" cy="188.0" rx="2.0" ry="4.2" fill="#36ad40"/><ellipse cx="613.0" cy="191.7" rx="2.0" ry="4.2" fill="#36ad40"/><ellipse cx="620.4" cy="157.8" rx="2.0" ry="4.2" fill="#36ad40"/><ellipse cx="609.8" cy="168.5" rx="2.0" ry="4.2" fill="#36ad40"/><ellipse cx="631.2" cy="183.3" rx="2.0" ry="4.2" fill="#36ad40"/><ellipse cx="626.6" cy="183.7" rx="2.0" ry="4.2" fill="#36ad40"/><ellipse cx="620.8" cy="163.2" rx="2.0" ry="4.2" fill="#36ad40"/><ellipse cx="620.7" cy="208.4" rx="2.0" ry="4.2" fill="#36ad40"/><ellipse cx="617.5" cy="200.4" rx="2.0" ry="4.2" fill="#36ad40"/><ellipse cx="621.8" cy="157.7" rx="2.0" ry="4.2" fill="#36ad40"/><ellipse cx="624.3" cy="190.9" rx="2.0" ry="4.2" fill="#36ad40"/><ellipse cx="627.4" cy="183.5" rx="2.0" ry="4.2" fill="#36ad40"/><ellipse cx="623.1" cy="209.1" rx="2.0" ry="4.2" fill="#36ad40"/><ellipse cx="623.0" cy="211.7" rx="2.0" ry="4.2" fill="#36ad40"/><ellipse cx="613.8" cy="204.2" rx="2.0" ry="4.2" fill="#36ad40"/><ellipse cx="615.2" cy="212.6" rx="2.0" ry="4.2" fill="#36ad40"/><ellipse cx="606.2" cy="167.4" rx="2.0" ry="4.2" fill="#36ad40"/><ellipse cx="630.3" cy="181.2" rx="2.0" ry="4.2" fill="#36ad40"/><ellipse cx="620.5" cy="172.7" rx="2.0" ry="4.2" fill="#36ad40"/><ellipse cx="617.0" cy="178.0" rx="2.0" ry="4.2" fill="#36ad40"/><ellipse cx="612.5" cy="190.6" rx="2.0" ry="4.2" fill="#36ad40"/><ellipse cx="619.2" cy="210.7" rx="2.0" ry="4.2" fill="#36ad40"/><ellipse cx="622.1" cy="212.2" rx="2.0" ry="4.2" fill="#36ad40"/><ellipse cx="621.8" cy="164.0" rx="2.0" ry="4.2" fill="#36ad40"/><ellipse cx="628.5" cy="189.6" rx="2.0" ry="4.2" fill="#36ad40"/><ellipse cx="623.0" cy="167.0" rx="2.0" ry="4.2" fill="#36ad40"/><ellipse cx="626.4" cy="189.8" rx="2.0" ry="4.2" fill="#36ad40"/><ellipse cx="610.6" cy="157.7" rx="2.0" ry="4.2" fill="#36ad40"/><ellipse cx="614.2" cy="163.2" rx="2.0" ry="4.2" fill="#36ad40"/><ellipse cx="610.8" cy="202.1" rx="2.0" ry="4.2" fill="#36ad40"/><ellipse cx="620.1" cy="156.5" rx="2.0" ry="4.2" fill="#36ad40"/><ellipse cx="623.1" cy="174.6" rx="2.0" ry="4.2" fill="#36ad40"/><ellipse cx="617.0" cy="216.6" rx="2.0" ry="4.2" fill="#36ad40"/><ellipse cx="611.3" cy="158.5" rx="2.0" ry="4.2" fill="#36ad40"/><ellipse cx="619.7" cy="155.7" rx="2.0" ry="4.2" fill="#36ad40"/><ellipse cx="608.0" cy="179.4" rx="2.0" ry="4.2" fill="#36ad40"/><ellipse cx="620.0" cy="163.5" rx="2.0" ry="4.2" fill="#36ad40"/><ellipse cx="611.4" cy="214.1" rx="2.0" ry="4.2" fill="#36ad40"/><ellipse cx="628.3" cy="177.5" rx="2.0" ry="4.2" fill="#36ad40"/><ellipse cx="615.7" cy="186.5" rx="2.0" ry="4.2" fill="#36ad40"/><ellipse cx="621.0" cy="191.2" rx="2.0" ry="4.2" fill="#36ad40"/><ellipse cx="618.5" cy="192.8" rx="2.0" ry="4.2" fill="#36ad40"/><ellipse cx="629.6" cy="185.6" rx="2.0" ry="4.2" fill="#36ad40"/><ellipse cx="614.8" cy="199.1" rx="2.0" ry="4.2" fill="#36ad40"/><ellipse cx="609.2" cy="172.7" rx="2.0" ry="4.2" fill="#36ad40"/><ellipse cx="630.7" cy="186.5" rx="2.0" ry="4.2" fill="#36ad40"/><ellipse cx="618.2" cy="154.4" rx="2.0" ry="4.2" fill="#36ad40"/><ellipse cx="614.3" cy="190.2" rx="2.0" ry="4.2" fill="#36ad40"/><ellipse cx="602.9" cy="192.5" rx="2.0" ry="4.2" fill="#36ad40"/><ellipse cx="620.6" cy="157.5" rx="2.0" ry="4.2" fill="#36ad40"/><ellipse cx="620.5" cy="183.1" rx="2.0" ry="4.2" fill="#36ad40"/><ellipse cx="622.0" cy="175.9" rx="2.0" ry="4.2" fill="#36ad40"/><ellipse cx="622.8" cy="200.2" rx="2.0" ry="4.2" fill="#36ad40"/><ellipse cx="621.9" cy="214.4" rx="2.0" ry="4.2" fill="#36ad40"/><ellipse cx="609.6" cy="182.4" rx="2.0" ry="4.2" fill="#36ad40"/><ellipse cx="619.5" cy="173.9" rx="2.0" ry="4.2" fill="#36ad40"/><ellipse cx="612.9" cy="173.4" rx="2.0" ry="4.2" fill="#36ad40"/><ellipse cx="613.0" cy="191.2" rx="2.0" ry="4.2" fill="#36ad40"/><ellipse cx="611.0" cy="177.5" rx="2.0" ry="4.2" fill="#36ad40"/><ellipse cx="618.8" cy="200.0" rx="2.0" ry="4.2" fill="#36ad40"/><ellipse cx="611.3" cy="167.7" rx="2.0" ry="4.2" fill="#36ad40"/><ellipse cx="625.6" cy="168.7" rx="2.0" ry="4.2" fill="#36ad40"/><ellipse cx="607.7" cy="181.1" rx="2.0" ry="4.2" fill="#36ad40"/><ellipse cx="622.5" cy="160.1" rx="2.0" ry="4.2" fill="#36ad40"/><ellipse cx="611.6" cy="174.7" rx="2.0" ry="4.2" fill="#36ad40"/><ellipse cx="626.5" cy="181.3" rx="2.0" ry="4.2" fill="#36ad40"/><ellipse cx="627.1" cy="164.4" rx="2.0" ry="4.2" fill="#36ad40"/><ellipse cx="612.1" cy="194.7" rx="2.0" ry="4.2" fill="#36ad40"/><ellipse cx="628.0" cy="182.1" rx="2.0" ry="4.2" fill="#36ad40"/><ellipse cx="608.8" cy="161.3" rx="2.0" ry="4.2" fill="#36ad40"/><ellipse cx="617.7" cy="165.7" rx="2.0" ry="4.2" fill="#36ad40"/><ellipse cx="625.7" cy="206.5" rx="2.0" ry="4.2" fill="#36ad40"/><ellipse cx="607.6" cy="171.3" rx="2.0" ry="4.2" fill="#36ad40"/><ellipse cx="625.7" cy="194.1" rx="2.0" ry="4.2" fill="#36ad40"/><ellipse cx="625.7" cy="175.5" rx="2.0" ry="4.2" fill="#36ad40"/><ellipse cx="606.1" cy="172.1" rx="2.0" ry="4.2" fill="#36ad40"/><ellipse cx="625.3" cy="170.8" rx="2.0" ry="4.2" fill="#36ad40"/><ellipse cx="612.3" cy="180.0" rx="2.0" ry="4.2" fill="#36ad40"/><ellipse cx="614.5" cy="179.5" rx="2.0" ry="4.2" fill="#36ad40"/><ellipse cx="614.9" cy="213.6" rx="2.0" ry="4.2" fill="#36ad40"/><ellipse cx="623.9" cy="206.4" rx="2.0" ry="4.2" fill="#36ad40"/><ellipse cx="621.5" cy="186.4" rx="2.0" ry="4.2" fill="#36ad40"/><ellipse cx="610.7" cy="175.2" rx="2.0" ry="4.2" fill="#36ad40"/><ellipse cx="619.4" cy="171.8" rx="2.0" ry="4.2" fill="#36ad40"/><ellipse cx="628.5" cy="197.4" rx="2.0" ry="4.2" fill="#36ad40"/><ellipse cx="628.4" cy="190.0" rx="2.0" ry="4.2" fill="#36ad40"/><ellipse cx="607.3" cy="172.6" rx="2.0" ry="4.2" fill="#36ad40"/><ellipse cx="621.5" cy="186.8" rx="2.0" ry="4.2" fill="#36ad40"/><ellipse cx="614.3" cy="212.9" rx="2.0" ry="4.2" fill="#36ad40"/><ellipse cx="620.1" cy="175.2" rx="2.0" ry="4.2" fill="#36ad40"/><ellipse cx="609.6" cy="208.0" rx="2.0" ry="4.2" fill="#36ad40"/><ellipse cx="616.1" cy="203.0" rx="2.0" ry="4.2" fill="#36ad40"/><ellipse cx="612.5" cy="166.1" rx="2.0" ry="4.2" fill="#36ad40"/><ellipse cx="617.8" cy="205.2" rx="2.0" ry="4.2" fill="#36ad40"/><ellipse cx="607.3" cy="203.6" rx="2.0" ry="4.2" fill="#36ad40"/><ellipse cx="620.5" cy="208.0" rx="2.0" ry="4.2" fill="#36ad40"/><ellipse cx="610.1" cy="186.9" rx="2.0" ry="4.2" fill="#36ad40"/><ellipse cx="614.6" cy="183.5" rx="2.0" ry="4.2" fill="#36ad40"/><ellipse cx="604.8" cy="185.3" rx="2.0" ry="4.2" fill="#36ad40"/><ellipse cx="611.5" cy="173.5" rx="2.0" ry="4.2" fill="#36ad40"/><ellipse cx="612.5" cy="194.5" rx="2.0" ry="4.2" fill="#36ad40"/><ellipse cx="619.3" cy="176.4" rx="2.0" ry="4.2" fill="#36ad40"/><ellipse cx="607.8" cy="174.4" rx="2.0" ry="4.2" fill="#36ad40"/><ellipse cx="605.9" cy="188.7" rx="2.0" ry="4.2" fill="#36ad40"/><ellipse cx="623.1" cy="177.7" rx="2.0" ry="4.2" fill="#36ad40"/><ellipse cx="613.1" cy="191.8" rx="2.0" ry="4.2" fill="#36ad40"/><ellipse cx="625.0" cy="177.7" rx="2.0" ry="4.2" fill="#36ad40"/><ellipse cx="625.5" cy="192.9" rx="2.0" ry="4.2" fill="#36ad40"/><ellipse cx="614.8" cy="177.2" rx="2.0" ry="4.2" fill="#36ad40"/><ellipse cx="616.7" cy="198.0" rx="2.0" ry="4.2" fill="#36ad40"/><ellipse cx="614.5" cy="197.4" rx="2.0" ry="4.2" fill="#36ad40"/><ellipse cx="615.7" cy="169.1" rx="2.0" ry="4.2" fill="#36ad40"/><ellipse cx="617.8" cy="197.5" rx="2.0" ry="4.2" fill="#36ad40"/><ellipse cx="604.4" cy="180.5" rx="2.0" ry="4.2" fill="#36ad40"/><ellipse cx="614.6" cy="209.1" rx="2.0" ry="4.2" fill="#36ad40"/><ellipse cx="629.5" cy="177.3" rx="2.0" ry="4.2" fill="#36ad40"/><ellipse cx="628.3" cy="203.5" rx="2.0" ry="4.2" fill="#36ad40"/><ellipse cx="609.9" cy="182.9" rx="2.0" ry="4.2" fill="#36ad40"/><ellipse cx="605.9" cy="204.9" rx="2.0" ry="4.2" fill="#36ad40"/><ellipse cx="621.5" cy="209.6" rx="2.0" ry="4.2" fill="#36ad40"/><ellipse cx="625.3" cy="195.8" rx="2.0" ry="4.2" fill="#36ad40"/><ellipse cx="623.6" cy="189.2" rx="2.0" ry="4.2" fill="#36ad40"/><ellipse cx="605.3" cy="190.7" rx="2.0" ry="4.2" fill="#36ad40"/><ellipse cx="627.8" cy="165.0" rx="2.0" ry="4.2" fill="#36ad40"/><ellipse cx="621.8" cy="206.4" rx="2.0" ry="4.2" fill="#36ad40"/><ellipse cx="629.9" cy="190.2" rx="2.0" ry="4.2" fill="#36ad40"/><ellipse cx="624.6" cy="185.9" rx="2.0" ry="4.2" fill="#36ad40"/><ellipse cx="623.0" cy="160.4" rx="2.0" ry="4.2" fill="#36ad40"/><ellipse cx="604.1" cy="174.1" rx="2.0" ry="4.2" fill="#36ad40"/><ellipse cx="618.7" cy="205.9" rx="2.0" ry="4.2" fill="#36ad40"/><ellipse cx="609.3" cy="165.0" rx="2.0" ry="4.2" fill="#36ad40"/><ellipse cx="609.5" cy="192.5" rx="2.0" ry="4.2" fill="#36ad40"/><ellipse cx="624.2" cy="178.5" rx="2.0" ry="4.2" fill="#36ad40"/><ellipse cx="613.0" cy="178.7" rx="2.0" ry="4.2" fill="#36ad40"/><ellipse cx="612.5" cy="180.0" rx="2.0" ry="4.2" fill="#36ad40"/><ellipse cx="604.7" cy="185.2" rx="2.0" ry="4.2" fill="#36ad40"/><ellipse cx="630.5" cy="179.7" rx="2.0" ry="4.2" fill="#36ad40"/><ellipse cx="624.0" cy="163.8" rx="2.0" ry="4.2" fill="#36ad40"/><ellipse cx="622.3" cy="201.3" rx="2.0" ry="4.2" fill="#36ad40"/><ellipse cx="621.8" cy="186.3" rx="2.0" ry="4.2" fill="#36ad40"/><ellipse cx="616.3" cy="194.2" rx="2.0" ry="4.2" fill="#36ad40"/><ellipse cx="605.1" cy="200.8" rx="2.0" ry="4.2" fill="#36ad40"/><ellipse cx="628.9" cy="186.3" rx="2.0" ry="4.2" fill="#36ad40"/><ellipse cx="615.1" cy="199.0" rx="2.0" ry="4.2" fill="#36ad40"/><ellipse cx="607.7" cy="170.5" rx="2.0" ry="4.2" fill="#36ad40"/><ellipse cx="608.1" cy="190.6" rx="2.0" ry="4.2" fill="#36ad40"/><ellipse cx="611.4" cy="168.3" rx="2.0" ry="4.2" fill="#36ad40"/><ellipse cx="622.3" cy="213.8" rx="2.0" ry="4.2" fill="#36ad40"/><ellipse cx="610.9" cy="198.1" rx="2.0" ry="4.2" fill="#36ad40"/><ellipse cx="614.3" cy="207.5" rx="2.0" ry="4.2" fill="#36ad40"/><ellipse cx="584.4" cy="151.8" rx="2.0" ry="4.2" fill="#7a9a48"/><ellipse cx="601.5" cy="217.5" rx="2.0" ry="4.2" fill="#7a9a48"/><ellipse cx="604.5" cy="222.5" rx="2.0" ry="4.2" fill="#7a9a48"/><ellipse cx="598.5" cy="212.0" rx="2.0" ry="4.2" fill="#7a9a48"/><g fill="none" stroke="#333" stroke-width="1.2"><ellipse cx="444.9" cy="177.5" rx="3.5" ry="8.3" stroke="#2c3350"/><ellipse cx="560.1" cy="178.2" rx="5.0" ry="12.8" stroke="#6a4a32"/><ellipse cx="591.3" cy="285.5" rx="6.4" ry="16" stroke="#4a2438"/><ellipse cx="617.7" cy="185.2" rx="12.2" ry="29.7" stroke="#2a5a2e" stroke-width="0.9"/></g><g font-family="Liberation Sans"><text transform="translate(460.30 174.60) scale(0.340 1)" x="0" y="0" text-anchor="middle" font-size="21.5" fill="#2a2a2a" >3</text><text transform="translate(576.00 172.60) scale(0.360 1)" x="0" y="0" text-anchor="middle" font-size="19.5" fill="#2a1a0a" stroke="#2a1a0a" stroke-width="0.5">4</text><text transform="translate(632.40 182.60) scale(0.340 1)" x="0" y="0" text-anchor="middle" font-size="21.5" fill="#1a2a1a" >2</text><text transform="translate(606.80 282.00) scale(0.340 1)" x="0" y="0" text-anchor="middle" font-size="21.5" fill="#5a2a45" >1</text><text transform="translate(384.80 125.90) scale(0.370 1)" x="0" y="0" text-anchor="end" font-size="21.5" fill="#333" >2</text><text transform="translate(384.80 169.30) scale(0.370 1)" x="0" y="0" text-anchor="end" font-size="21.5" fill="#333" >1</text><text transform="translate(384.80 212.70) scale(0.370 1)" x="0" y="0" text-anchor="end" font-size="21.5" fill="#333" >0</text><text transform="translate(384.80 256.10) scale(0.370 1)" x="0" y="0" text-anchor="end" font-size="21.5" fill="#333" >-1</text><text transform="translate(384.80 299.50) scale(0.370 1)" x="0" y="0" text-anchor="end" font-size="21.5" fill="#333" >-2</text><text transform="translate(384.80 342.90) scale(0.370 1)" x="0" y="0" text-anchor="end" font-size="21.5" fill="#333" >-3</text><text transform="translate(390.40 388.60) scale(0.370 1)" x="0" y="0" text-anchor="middle" font-size="21.5" fill="#333" >-12</text><text transform="translate(424.76 388.60) scale(0.370 1)" x="0" y="0" text-anchor="middle" font-size="21.5" fill="#333" >-10</text><text transform="translate(459.12 388.60) scale(0.370 1)" x="0" y="0" text-anchor="middle" font-size="21.5" fill="#333" >-8</text><text transform="translate(493.48 388.60) scale(0.370 1)" x="0" y="0" text-anchor="middle" font-size="21.5" fill="#333" >-6</text><text transform="translate(527.84 388.60) scale(0.370 1)" x="0" y="0" text-anchor="middle" font-size="21.5" fill="#333" >-4</text><text transform="translate(562.20 388.60) scale(0.370 1)" x="0" y="0" text-anchor="middle" font-size="21.5" fill="#333" >-2</text><text transform="translate(596.56 388.60) scale(0.370 1)" x="0" y="0" text-anchor="middle" font-size="21.5" fill="#333" >0</text><text transform="translate(630.92 388.60) scale(0.370 1)" x="0" y="0" text-anchor="middle" font-size="21.5" fill="#333" >2</text><text transform="translate(665.28 388.60) scale(0.370 1)" x="0" y="0" text-anchor="middle" font-size="21.5" fill="#333" >4</text><text transform="translate(527.20 416.00) scale(0.370 1)" x="0" y="0" text-anchor="middle" font-size="20.5" fill="#555" >Prin 1</text><text transform="translate(370.4 235) rotate(-90) scale(1 0.4)" x="0" y="0" text-anchor="middle" font-size="18.5" font-weight="bold" fill="#555">Prin 2</text></g><path d="M386.6 117.90H390.4M386.6 161.30H390.4M386.6 204.70H390.4M386.6 248.10H390.4M386.6 291.50H390.4M386.6 334.90H390.4M388.2 139.60H390.4M388.2 183.00H390.4M388.2 226.40H390.4M388.2 269.80H390.4M388.2 313.20H390.4M390.40 356.3V367M424.76 356.3V367M459.12 356.3V367M493.48 356.3V367M527.84 356.3V367M562.20 356.3V367M596.56 356.3V367M630.92 356.3V367M665.28 356.3V367" stroke="#b8b8b8" stroke-width="1" fill="none"/></g>
</svg>
</body></html>
